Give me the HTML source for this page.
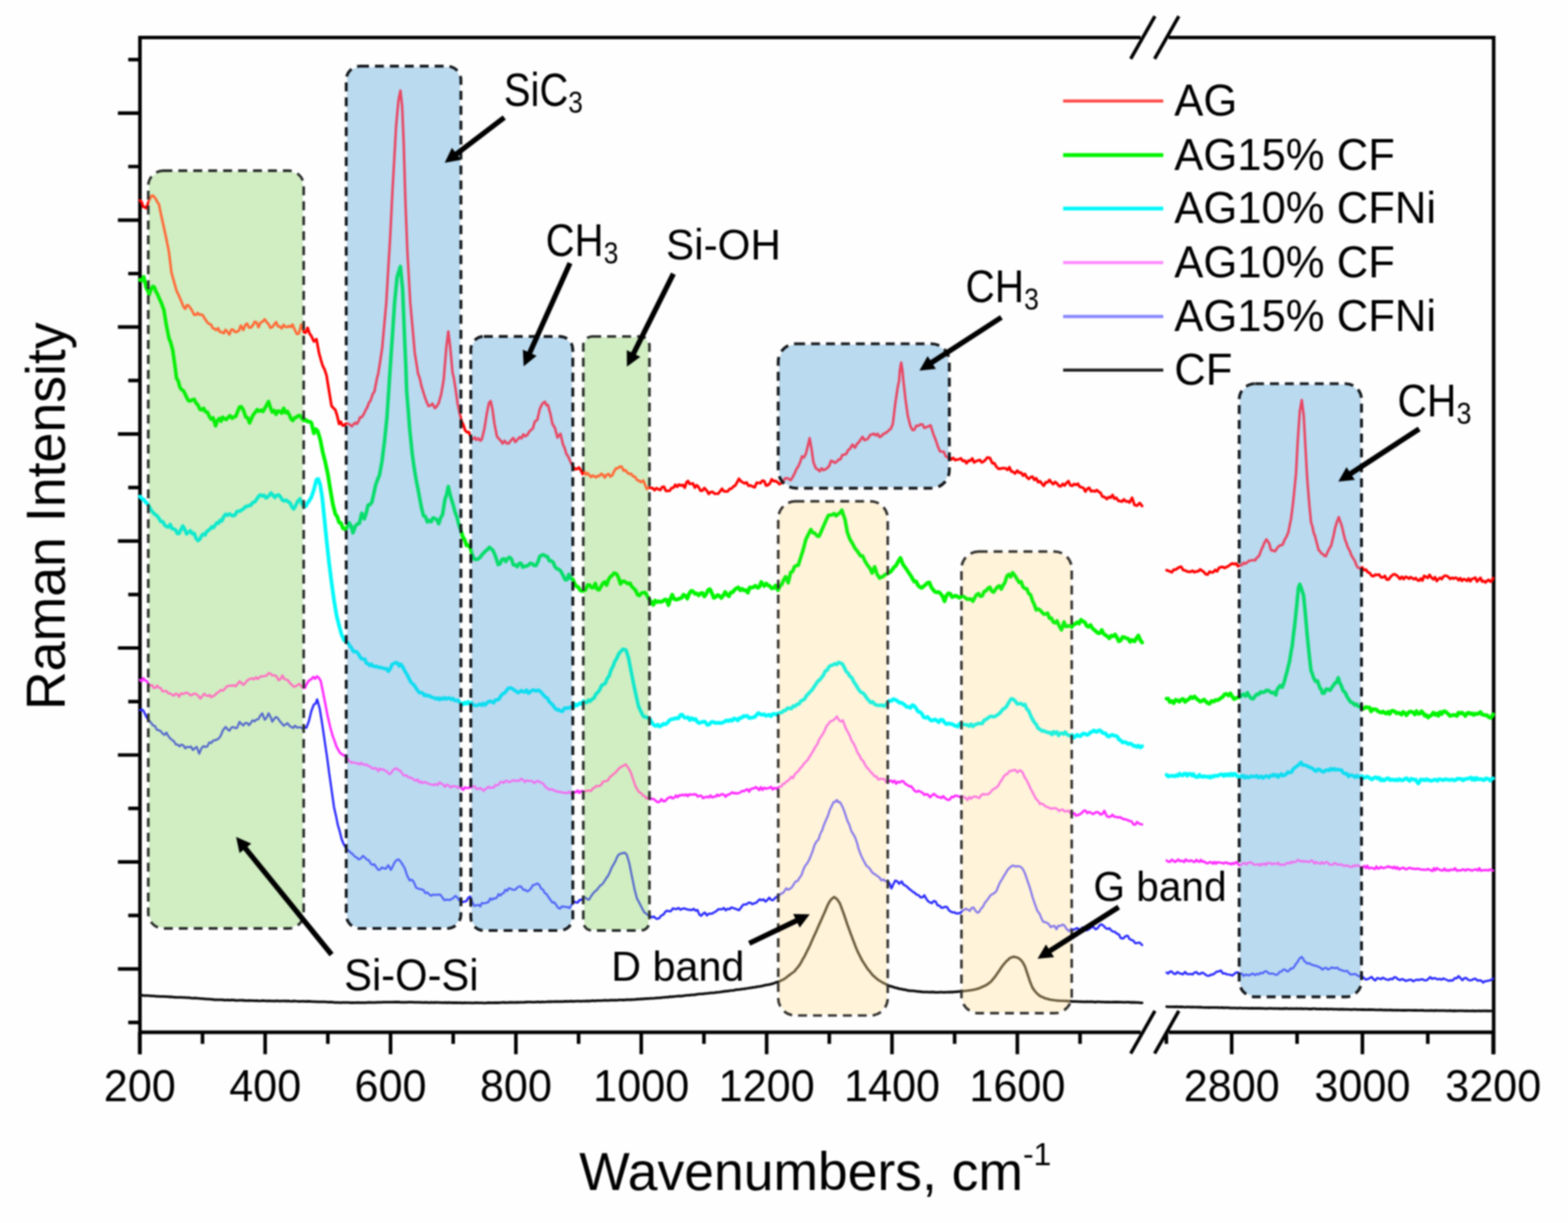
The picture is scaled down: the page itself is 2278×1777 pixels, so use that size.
<!DOCTYPE html>
<html lang="en"><head><meta charset="utf-8"><title>Raman spectra</title>
<style>html,body{margin:0;padding:0;background:#fff;overflow:hidden}svg{display:block;filter:blur(1px)}text{font-family:"Liberation Sans",sans-serif;fill:#000}</style></head><body>
<svg width="2278" height="1777" viewBox="0 0 2278 1777">
<defs>
<polyline id="c-black-l" points="203.3,1446.2 206.2,1446.2 209.1,1446.5 212,1446.6 214.9,1446.7 217.8,1446.9 220.7,1447.1 223.6,1447.2 226.5,1447.6 229.4,1447.6 232.3,1447.8 235.2,1447.8 238.1,1447.9 240.9,1448.2 243.7,1448.1 246.5,1448.5 249.4,1448.4 252.2,1448.8 255,1449 257.8,1449.1 260.6,1449.2 263.5,1449.2 266.3,1449.4 269.1,1449.4 271.9,1449.7 274.7,1449.7 277.5,1450.2 280.4,1450.3 283.2,1450.2 286,1450.4 288.8,1450.7 291.6,1450.9 294.4,1451.1 297.3,1451.3 300.1,1451.6 302.9,1451.6 305.7,1451.8 308.5,1452.1 311.4,1452.5 314.2,1452.6 317,1452.7 319.8,1452.7 322.6,1452.6 325.4,1453 328.3,1453.1 331.1,1452.8 333.9,1453.3 336.7,1452.9 339.5,1453.1 342.3,1453.5 345.2,1453.6 348,1453.4 350.8,1453.4 353.6,1453.5 356.4,1453.9 359.3,1453.9 362.1,1453.7 364.9,1453.8 367.7,1453.9 370.5,1454.1 373.3,1453.9 376.2,1454.3 379,1454.2 381.8,1454 384.6,1454.1 387.4,1454.3 390.3,1454.2 393.1,1454.4 395.9,1454.3 398.7,1454.6 401.5,1454.2 404.3,1454.3 407.2,1454.6 410,1454.4 412.8,1454.4 415.6,1454.5 418.4,1454.4 421.2,1454.7 424.1,1454.8 426.9,1454.5 429.7,1454.7 432.5,1454.8 435.3,1455.1 438.2,1454.9 441,1454.9 443.8,1455.1 446.6,1455 449.4,1455 452.2,1455.2 455.1,1455.3 457.9,1455.4 460.7,1455.6 463.5,1455.6 466.3,1455.7 469.1,1455.6 472,1455.7 474.8,1455.9 477.6,1456.1 480.4,1456 483.2,1456.2 486.1,1456.6 488.9,1456.7 491.7,1456.7 494.5,1456.8 497.3,1456.7 500.1,1456.7 503,1456.7 505.8,1456.7 508.6,1456.9 511.4,1457 514.2,1456.9 517,1456.8 519.9,1456.7 522.7,1456.9 525.5,1456.9 528.3,1456.8 531.1,1456.8 534,1456.6 536.8,1456.5 539.6,1456.7 542.4,1456.7 545.2,1456.6 548,1456.3 550.9,1456.4 553.7,1456.3 556.5,1456.1 559.3,1456.2 562.1,1456.1 564.9,1456.2 567.8,1456.1 570.6,1456.2 573.4,1455.9 576.2,1456 579,1455.9 581.9,1456.4 584.7,1456.4 587.5,1456.3 590.3,1456.3 593.1,1456.2 595.9,1456.1 598.8,1456.2 601.6,1456.3 604.4,1456.3 607.2,1456.3 610,1456.4 612.8,1456.6 615.7,1456.7 618.5,1456.4 621.3,1456.6 624.1,1456.9 626.9,1456.4 629.8,1456.8 632.6,1456.5 635.4,1456.6 638.2,1456.7 641,1456.8 643.8,1456.8 646.7,1456.7 649.5,1457 652.3,1456.6 655.1,1456.8 657.9,1457 660.7,1457 663.6,1456.9 666.4,1457.1 669.2,1456.8 672,1457.3 674.8,1457 677.7,1457.1 680.5,1457.1 683.4,1457.1 686.3,1457.4 689.2,1457.1 692,1457 694.9,1457.1 697.8,1457.1 700,1457.1 702.9,1457.3 705.9,1457.3 708.8,1456.9 711.7,1457 714.7,1457.1 717.6,1456.9 720.5,1457 723.4,1457 726.4,1456.8 729.3,1456.6 732.2,1456.5 735.2,1456.9 738.1,1456.6 741,1456.5 744,1456.5 746.9,1456.6 749.8,1456.4 752.7,1456.5 755.7,1456.3 758.6,1456.4 761.5,1456.4 764.5,1456 767.4,1455.9 770.3,1455.9 773.3,1456.1 776.2,1456.2 779.1,1455.9 782.1,1455.7 785,1456.1 787.9,1455.6 790.8,1455.8 793.8,1455.7 796.7,1455.5 799.6,1455.5 802.6,1455.4 805.5,1455.3 808.4,1455.1 811.4,1455.3 814.3,1455.2 817.2,1455.4 820.1,1455 823.1,1454.9 826,1455.1 828.9,1454.7 831.9,1455 834.8,1454.8 837.7,1454.6 840.7,1454.6 843.6,1454.9 846.5,1454.7 849.5,1454.6 852.4,1454.3 855.3,1454.5 858.2,1454.3 861.2,1453.9 864.1,1454.3 867,1453.9 870,1453.9 872.9,1453.9 875.8,1453.7 878.8,1453.4 881.7,1453.7 884.6,1453.6 887.5,1453.2 890.5,1453.4 893.4,1453.1 896.3,1453.3 899.3,1452.9 902.2,1452.8 905.1,1453 908.1,1452.9 911,1452.5 913.9,1452.6 916.8,1452.5 919.8,1452.4 922.6,1452.3 925.4,1451.7 928.2,1451.9 931.1,1451.4 933.9,1451.5 936.7,1451.1 939.5,1451 942.3,1450.9 945.1,1450.7 948,1450.6 950.8,1450.4 953.6,1450.1 956.4,1449.9 959.2,1449.8 962,1449.3 964.9,1449.2 967.7,1448.9 970.5,1448.8 973.3,1448.2 976.1,1448.4 979,1447.9 981.8,1447.7 984.6,1447.4 987.4,1447.2 990.2,1447.3 993,1446.8 995.9,1446.4 998.7,1446.2 1001.5,1446 1004.3,1445.6 1007.1,1445.5 1009.9,1445.3 1012.8,1444.7 1015.6,1444.4 1018.4,1444.1 1021.2,1444.1 1024,1443.7 1026.9,1443.4 1029.7,1443.1 1032.5,1442.7 1035.3,1442.7 1038.1,1442.4 1040.9,1441.9 1043.8,1441.7 1046.6,1441.3 1049.4,1440.8 1052.2,1440.5 1055,1440.2 1057.8,1440 1060.7,1439.3 1063.5,1439.2 1066.3,1438.8 1069.1,1438.2 1071.9,1437.8 1074.8,1437.6 1077.6,1437.2 1080.4,1436.9 1083.2,1436.5 1086,1436 1088.8,1435.5 1091.7,1435.1 1094.5,1434.6 1097.3,1434.3 1100.1,1433.7 1102.9,1433.4 1106,1432.9 1109,1432.2 1112.1,1431.4 1115.1,1430.9 1118.2,1430.3 1121.2,1429.6 1124,1428.9 1126.7,1427.6 1129.5,1426.8 1132.2,1426.1 1134.7,1424.6 1137.1,1423.6 1139.6,1422.3 1142,1420.6 1144.4,1418.7 1146.9,1416.8 1149.3,1414.9 1151.8,1413.1 1154.2,1411.4 1156.7,1408.1 1159.1,1405.4 1161.5,1402.2 1164,1398.1 1166.4,1393.5 1168.9,1389.4 1171.3,1384.5 1173.7,1379.6 1176.2,1374.7 1178.6,1369.1 1181.1,1363.6 1183.5,1358.2 1186,1352.8 1188.4,1347.3 1190.8,1341.7 1193.3,1336.2 1195.7,1330.8 1198.2,1325.3 1200.9,1318.7 1203.7,1312.5 1207.3,1307 1209.5,1305.1 1211.7,1303.3 1214.1,1305 1216.5,1306.9 1220.1,1312.4 1222.9,1319.8 1225.6,1327.1 1228.4,1335.3 1231.1,1343.6 1233.6,1350.4 1236,1356.9 1238.5,1363.7 1240.9,1369.9 1243.3,1376.1 1245.8,1382.1 1248.2,1387 1250.7,1391.9 1253.1,1396.6 1255.6,1400.3 1258,1404 1260.4,1407.7 1262.9,1410.6 1265.3,1413.7 1267.8,1416.9 1270.2,1418.9 1272.6,1421.1 1275.1,1423.2 1277.5,1424.8 1280,1426.3 1282.4,1427.7 1284.9,1429 1287.3,1430.1 1289.7,1431.6 1292.5,1432.6 1295.2,1433.4 1298,1434.2 1300.7,1435.1 1303.5,1435.6 1306.2,1436.6 1309,1436.9 1311.7,1437.7 1314.5,1438 1317.2,1438.6 1320,1439.3 1322.7,1439.5 1325.8,1439.6 1328.8,1439.9 1331.9,1440.5 1334.9,1440.7 1338,1441 1341,1441.3 1344.1,1441.4 1347.1,1441.3 1350.2,1441.7 1353.2,1441.5 1356.3,1441.5 1359.3,1441.8 1362.4,1441.8 1365.4,1441.6 1368.5,1441.6 1371.6,1441.9 1374.6,1441.7 1377.7,1441.7 1380.7,1441.5 1383.8,1441.5 1386.8,1441.2 1389.9,1441 1392.9,1440.7 1396,1440.6 1398.9,1440.3 1401.8,1439.8 1404.8,1439.5 1407.7,1439.1 1410.6,1438.8 1413.4,1438.2 1416.1,1437.7 1418.9,1436.9 1421.6,1436.2 1424.4,1435.2 1427.1,1433.8 1429.9,1432.7 1432.6,1431.5 1435,1429.8 1437.5,1428 1439.9,1426.1 1442.4,1423 1444.8,1420.1 1447.3,1416.8 1449.7,1413.3 1452.1,1409.7 1454.6,1405.9 1457,1402.7 1459.5,1399.6 1461.9,1396.8 1464.7,1394.4 1467.4,1391.9 1470.1,1390.9 1472.9,1390.1 1475.4,1390.8 1478,1391.2 1481.7,1393.5 1485.3,1397.4 1489,1404 1492.7,1415.1 1496.3,1426 1500,1435.1 1502.7,1438.9 1505.5,1442.5 1508.2,1444.8 1511,1447.3 1513.4,1448.2 1515.9,1449.3 1518.3,1450.6 1520.7,1451.1 1523.2,1451.7 1525.6,1452.5 1528.4,1452.8 1531.1,1453.2 1533.9,1453.5 1536.6,1454 1539.5,1454 1542.5,1454.2 1545.4,1454.3 1548.3,1454.4 1551.3,1454.6 1554.3,1454.6 1557.4,1455 1560.4,1455.1 1563.5,1455.1 1566.5,1455.4 1569.6,1455.3 1572.6,1455.5 1575.7,1455.6 1578.7,1455.3 1581.8,1455.6 1584.8,1455.4 1587.9,1455.6 1590.9,1456 1594,1455.7 1597,1455.7 1600.1,1455.9 1603.2,1455.8 1606.2,1456.1 1609.3,1456 1612.3,1456.1 1615.4,1456.2 1618.4,1456 1621.5,1456 1624.5,1455.9 1627.6,1456.1 1630.6,1456.2 1633.7,1456.4 1636.7,1456.2 1639.8,1456.1 1642.8,1456.5 1645.6,1456.4 1648.3,1456.5 1651.1,1456.6 1653.8,1456.7 1656.6,1457.2 1659.3,1457.1"/>
<polyline id="c-black-r" points="1694.8,1462.6 1697.3,1462.8 1699.8,1462.9 1702.3,1462.9 1704.7,1462.8 1707.2,1463 1709.7,1462.7 1712.2,1463.1 1714.6,1463 1717.1,1462.9 1719.6,1463.2 1722,1463.3 1724.5,1463.2 1727,1463.2 1729.5,1463.3 1731.9,1463.1 1734.4,1463.4 1736.9,1463.3 1739.3,1463.3 1741.7,1463.5 1744.2,1463.4 1746.6,1463.7 1749.1,1463.8 1751.5,1463.9 1753.9,1463.9 1756.4,1464 1758.8,1463.9 1761.3,1463.9 1763.7,1463.9 1766.2,1463.9 1768.6,1463.9 1771,1464.2 1773.5,1464.1 1775.9,1464 1778.4,1464.4 1780.8,1464.1 1783.3,1464.2 1785.7,1464.4 1788.1,1464.6 1790.6,1464.6 1793,1464.6 1795.5,1464.6 1797.9,1464.8 1800.3,1464.7 1802.8,1464.7 1805.2,1464.8 1807.7,1464.9 1810.1,1464.9 1812.6,1464.8 1815,1465.1 1817.4,1465 1819.9,1464.9 1822.3,1465.2 1824.8,1465 1827.2,1465.1 1829.6,1464.9 1832.1,1465.2 1834.5,1465.2 1837,1465.3 1839.4,1465.3 1841.9,1465.3 1844.3,1465.1 1846.7,1465.1 1849.2,1465.3 1851.6,1465.3 1854.1,1465.4 1856.5,1465.4 1859,1465.5 1861.4,1465.6 1863.8,1465.3 1866.3,1465.5 1868.7,1465.2 1871.2,1465.6 1873.6,1465.6 1876,1465.5 1878.5,1465.6 1880.9,1465.6 1883.4,1465.5 1885.8,1465.6 1888.3,1465.7 1890.7,1465.5 1893.1,1465.8 1895.6,1465.6 1898,1465.6 1900.5,1465.9 1902.9,1466 1905.4,1466 1907.8,1465.7 1910.2,1465.7 1912.7,1466 1915.1,1466.1 1917.6,1465.8 1920,1466.2 1922.4,1466.1 1924.9,1466.2 1927.3,1466 1929.8,1466.3 1932.2,1466.2 1934.7,1466.1 1937.1,1466.3 1939.5,1466.4 1942,1466.3 1944.4,1466.6 1946.9,1466.4 1949.3,1466.5 1951.7,1466.5 1954.2,1466.7 1956.6,1466.7 1959.1,1466.7 1961.5,1466.9 1964,1466.9 1966.4,1466.7 1968.8,1466.6 1971.3,1466.8 1973.7,1466.8 1976.2,1466.9 1978.6,1467 1981.1,1466.8 1983.5,1467 1985.9,1467.1 1988.4,1467 1990.8,1467 1993.3,1467.1 1995.7,1467 1998.1,1467.4 2000.6,1467.3 2003,1467.3 2005.5,1467.2 2007.9,1467.3 2010.4,1467.6 2012.8,1467.5 2015.2,1467.6 2017.7,1467.6 2020.1,1467.4 2022.6,1467.9 2025,1467.7 2027.5,1467.8 2029.9,1467.6 2032.3,1467.8 2034.8,1467.9 2037.2,1468 2039.7,1467.8 2042.1,1468 2044.5,1467.8 2047,1467.9 2049.4,1467.8 2051.9,1468.1 2054.3,1468 2056.8,1467.9 2059.2,1468.1 2061.6,1468.1 2064.1,1468.2 2066.5,1468 2069,1468.3 2071.4,1468.3 2073.8,1468.3 2076.3,1468.4 2078.7,1468.2 2081.2,1468.3 2083.6,1468.5 2086.1,1468.2 2088.5,1468.3 2090.9,1468.4 2093.4,1468.3 2095.8,1468.4 2098.3,1468.4 2100.7,1468.6 2103.2,1468.6 2105.6,1468.4 2108,1468.5 2110.5,1468.8 2112.9,1468.5 2115.4,1468.8 2117.8,1468.7 2120.2,1468.7 2122.7,1468.6 2125.1,1468.7 2127.6,1468.8 2130,1468.7 2132.5,1468.8 2134.9,1468.8 2137.3,1468.8 2139.8,1468.7 2142.2,1469 2144.7,1468.8 2147.1,1468.9 2149.6,1468.7 2152,1469.1 2154.5,1468.7 2157,1468.9 2159.4,1468.7 2161.9,1469 2164.3,1468.9 2166.8,1468.8 2169.2,1468.8"/>
<polyline id="c-blue-l" points="203.3,1031.7 206,1030.8 208.8,1033.3 211.5,1039.4 214.3,1044.3 217,1047.2 219.8,1050.7 222.5,1054 225.3,1055.2 228,1060.6 230.8,1060.9 233.5,1062.3 236.3,1066.1 239,1067.8 241.8,1064.4 244.5,1069.5 247.3,1072.9 250,1075.2 252.7,1076.9 255.5,1081.8 258.2,1081.8 261,1084.5 263.7,1081.9 266.5,1083.1 269.2,1087.4 272,1085.1 274.7,1085.7 277.5,1084.8 280.2,1089.8 283,1087.2 285.7,1085.1 289.4,1095.1 293,1086.7 295.8,1084.1 298.5,1085.5 301.3,1084.4 304,1078.7 306.8,1079.7 309.5,1076.3 312.3,1075.5 315,1074.8 317.8,1072.9 320.5,1069.4 324.2,1060.4 327.8,1056.2 330.6,1059.7 333.3,1061.7 336.1,1057.2 338.8,1056.3 341.6,1057.9 344.3,1057.8 348,1048.8 350.7,1052 353.5,1054.1 356.2,1050.4 359,1050.6 361.7,1053.7 364.5,1050.2 367.2,1046.5 370,1048.1 372.7,1045.3 375.5,1045.1 378.2,1039.8 381,1036.4 384.6,1045.9 387.4,1042.6 390.1,1036.3 392.9,1041.5 395.6,1048.6 398.4,1044.1 401.1,1041.7 403.8,1043.9 406.6,1048.1 409.3,1051 412.1,1054.4 414.8,1052.7 417.6,1050.8 420.3,1054.2 423.1,1056.4 425.8,1057.7 428.6,1054.3 431.3,1057.2 434.1,1056.8 436.8,1056.8 439.6,1058.8 442.3,1056.5 445.1,1057.4 448.7,1048 452.4,1032.9 456,1023.6 458.4,1022.3 460.8,1016.2 464.5,1029.6 468.1,1052.1 471.8,1077.3 475.5,1102.6 478,1121.5 481.7,1147.5 485.3,1173 488.1,1185.3 490.8,1198.7 493.6,1208 496.3,1219.2 499.1,1226.2 501.8,1230.7 504.6,1234.7 507.3,1236.6 510.1,1239.4 512.8,1241.3 515.6,1244.9 518.3,1245.9 521.1,1248.8 523.8,1247.5 527.5,1243.5 530.2,1246.1 533,1249.1 535.7,1249.8 538.5,1254.5 541.2,1256.8 544,1255.7 546.7,1260.2 549.5,1263.9 552.2,1263.6 554.9,1260.3 557.7,1261.8 560.4,1262.3 564.1,1257 567.8,1263.9 570.5,1259.1 573.3,1252.9 576,1249.9 578.8,1248.7 581.5,1251.2 584.2,1255.1 587.9,1261.2 591.6,1272.5 595.2,1279.3 598,1278.1 600.7,1280.7 604.4,1289.4 607.1,1291.1 609.9,1291.8 612.6,1292.2 615.4,1293.6 618.1,1297.8 620.9,1296.7 623.6,1299.5 626.4,1301.6 629.1,1299.6 631.9,1300.5 634.6,1299.9 637.4,1299.7 640.1,1300.3 642.9,1304.4 645.6,1308 648.4,1307.2 650.8,1307.3 653.2,1307.9 655.7,1306.4 658.4,1305.1 661.2,1301.7 663.9,1303.2 666.7,1307.9 669.4,1309.1 672.2,1310.6 674.9,1310 677.7,1309.1 680.4,1304.4 683.2,1302.7 686.8,1312.1 689.6,1316.4 692.3,1315.2 695.1,1314.7 697.8,1317.2 700,1312 702.4,1312.5 704.9,1312.2 707.3,1311.5 709.8,1310.5 712.2,1305.4 714.7,1307.5 717.1,1305.2 719.5,1305.7 722,1303.9 724.4,1299 726.9,1301.3 729.3,1298.5 731.7,1297.6 734.2,1292.7 736.6,1294.6 739.1,1290.7 741.5,1291 744,1292.4 746.4,1293.2 748.8,1292.4 751.3,1289.9 754,1287.9 756.8,1287.9 760.4,1293 763.2,1292.8 765.9,1295.1 768.7,1293.9 771.4,1290.7 774.2,1286.1 776.9,1285.5 780.6,1283.7 783.3,1285.4 786.1,1291.2 788.8,1292.5 791.6,1297.8 794.3,1299.4 797.1,1304 799.8,1307.7 802.6,1311.5 805.3,1311.1 808.1,1314.9 810.8,1319 813.6,1320.2 816.3,1317 819,1317.2 821.8,1317.9 824.5,1317.7 827.3,1319.4 830,1315.5 833.7,1309.7 836.4,1311.1 839.2,1311.5 841.9,1307.6 844.7,1307.6 847.4,1304.5 850.2,1304 852.9,1306.5 855.7,1307.3 858.4,1302.7 861.2,1298.7 863.9,1295.6 866.7,1293.5 869.4,1290.1 872.2,1286.4 874.9,1285 877.7,1281 880.4,1276.7 883.2,1272.8 885.9,1267.4 888.6,1260.8 891.4,1255.9 894.1,1251.2 896.9,1244.3 899.6,1241.2 902.4,1240.2 905.1,1239.4 907.9,1238.9 910.6,1241.9 914.3,1254.4 917.9,1272.6 921.6,1290.8 925.3,1305.3 928,1310.2 930.8,1315.7 933.5,1321.1 936.3,1325.9 939,1327.5 941.8,1330.3 944.5,1331 947.3,1332.8 950,1331.7 952.7,1334.5 955.5,1335.1 958.2,1333.5 961,1330 963.7,1329.1 966.5,1324.9 969.2,1323.2 972,1324.1 974.7,1323.9 977.5,1319.9 980.2,1320.6 983,1320.9 985.7,1319.2 988.5,1321.8 991.2,1320.5 994,1319.9 996.7,1320.7 999.5,1321.8 1002.2,1321.9 1004.9,1322.3 1007.7,1320.5 1010.4,1323.2 1013.2,1322.2 1015.9,1328.7 1018.7,1330.6 1021.4,1327.5 1024.2,1326 1026.9,1330.2 1029.7,1327.6 1032.4,1327.7 1035.2,1327.1 1037.9,1325.4 1040.7,1323.9 1043.4,1321.1 1046.2,1321.1 1048.9,1321.2 1051.6,1319.2 1054.4,1322.7 1057.1,1320.4 1059.9,1321.1 1062.6,1318.4 1065.4,1319.4 1068.1,1320.3 1070.9,1321.5 1073.6,1322.6 1076.4,1319 1079.1,1315.1 1081.9,1314.1 1084.6,1314 1087.4,1311.6 1090.1,1311.5 1092.9,1313.9 1095.6,1312.5 1098.4,1311.9 1101.1,1309.1 1103.8,1306.7 1106.6,1308.2 1109.3,1306.7 1112.1,1310 1114.8,1307.8 1117.6,1304.3 1120.3,1307.6 1123.1,1307.9 1125.8,1305.1 1128.6,1302.8 1131.3,1302.4 1134.1,1298.7 1136.8,1297.9 1139.6,1295 1142.3,1290.6 1145.1,1292.9 1147.8,1291.4 1150.5,1289.2 1153.3,1284.5 1156,1280.7 1158.8,1280.1 1161.5,1275.4 1164.3,1271.8 1167,1264 1169.8,1257.9 1172.5,1254.7 1175.3,1249.8 1178,1243.3 1180.8,1236.1 1183.5,1227.5 1186.3,1222.6 1189,1220 1191.8,1211.4 1194.5,1206.2 1197.3,1197.8 1200,1191.7 1202.7,1185.7 1205.5,1176.9 1208.2,1171.4 1211,1165.5 1213.4,1165.1 1215.8,1162.3 1217.9,1165.8 1220.1,1165.2 1222.9,1170 1225.6,1176.1 1228.4,1184.2 1231.1,1192.5 1233.9,1198.4 1236.6,1206.9 1239.4,1211.7 1242.1,1216.3 1244.9,1224.1 1247.6,1234.1 1250.4,1241.6 1253.1,1247.5 1255.9,1252.7 1258.6,1257.8 1261.4,1259.9 1264.1,1262.7 1266.8,1267.3 1269.6,1269.5 1272.3,1271.1 1275.1,1273.1 1277.8,1275.2 1280.6,1279.3 1283.3,1277.7 1286.1,1280.3 1288.8,1280.4 1291.6,1282.4 1295.2,1290.9 1298,1284.3 1300.7,1279.5 1303.5,1280.4 1306.2,1284.1 1309.9,1280.6 1312.6,1285.4 1315.4,1286.8 1318.1,1288.7 1320.9,1291.6 1323.6,1293.5 1326.4,1295.9 1329.1,1297.5 1331.9,1300 1334.6,1300.8 1337.4,1303.9 1340.1,1303.8 1342.9,1300.8 1345.6,1305.8 1348.4,1309.6 1351.1,1311.1 1353.8,1312.3 1356.6,1309 1359.3,1310 1362.1,1315.5 1364.8,1315.8 1367.6,1318.8 1370.3,1318.8 1373.1,1317.5 1375.8,1317.9 1378.6,1322.6 1381.3,1324.5 1384.1,1325.7 1386.8,1325.6 1389.6,1327.5 1392.3,1326.8 1395.1,1326.8 1397.8,1323.8 1400.5,1322.3 1403.3,1320.2 1406,1321.8 1408.8,1323.6 1411.5,1319.4 1414.3,1318.5 1417,1323.1 1419.8,1326.1 1422.5,1325 1425.3,1320.3 1428,1317.4 1430.8,1311.8 1433.5,1308.6 1436.3,1304.8 1439,1300.8 1441.8,1299.2 1444.5,1297.6 1447.3,1295.2 1450,1288.6 1452.7,1282.4 1455.5,1278 1458.2,1273.1 1461,1268.8 1463.7,1264 1466.5,1261.1 1469.2,1258.6 1472,1257.5 1474.7,1258.9 1478,1258.6 1481.7,1258.9 1485.3,1261.6 1489,1268.8 1492.7,1279.8 1496.3,1290.1 1500,1303.1 1503.6,1314 1507.3,1323.9 1510.1,1327.2 1512.8,1333.8 1515.5,1339.3 1518.3,1339.8 1521,1340.8 1523.8,1342.9 1526.5,1347.1 1529.3,1345.8 1532,1345.2 1534.8,1350.2 1537.5,1345 1540.3,1345.5 1543.9,1343.4 1546.7,1345.1 1549.4,1349.7 1553.1,1353.2 1555.8,1349.6 1558.6,1351.1 1561.3,1350.3 1564.1,1348.5 1566.8,1349.6 1569.6,1351.3 1572.3,1347.7 1575.1,1347.7 1577.8,1351.9 1580.6,1350.9 1583.3,1349.3 1586.1,1347 1588.8,1347.2 1591.6,1350.2 1594.3,1349.1 1597,1345.1 1599.8,1343 1602.5,1344.4 1606.2,1348.3 1609,1349.9 1611.7,1348.6 1614.4,1352 1617.2,1353.7 1619.9,1354 1622.7,1356.7 1625.4,1357.6 1628.2,1363.1 1631.8,1363.7 1635.5,1360 1638.3,1359.5 1641,1364.4 1643.8,1365.7 1646.5,1366.8 1649.2,1370.4 1652,1370.1 1655.7,1369.5 1659.3,1373.2"/>
<polyline id="c-blue-r" points="1694.8,1413.2 1697.2,1414.5 1699.6,1411.7 1702.4,1411.7 1705.1,1414.7 1707.9,1415.2 1710.6,1412.3 1713.3,1413.9 1716.1,1414.9 1718.8,1415.6 1721.6,1412.2 1724.3,1415.1 1727.1,1415.5 1729.8,1415 1732.6,1415.9 1735.3,1413.2 1738.1,1412.4 1740.8,1415.2 1743.6,1415.1 1746.3,1413.2 1749.1,1414.2 1751.8,1416.6 1754.6,1417.9 1757.3,1417.5 1760.1,1415.9 1762.8,1415.8 1765.5,1413.3 1768.3,1411.6 1771,1411.3 1773.8,1410.1 1776.5,1414.3 1779.3,1414.3 1782,1415.5 1784.8,1416 1787.5,1416.3 1790.3,1417.4 1793,1415.2 1795.8,1413.1 1798.5,1412.8 1801.3,1414.9 1804,1414.4 1806.8,1418 1809.5,1416 1812.2,1416.5 1815,1417.2 1817.7,1415.5 1820.5,1414.5 1823.2,1417 1826,1415 1828.7,1415.9 1831.5,1413.5 1834.2,1414.4 1837,1411.8 1839.7,1411.1 1842.5,1413.6 1845.2,1415 1848,1414.4 1850.7,1415.1 1853.5,1416.5 1856.2,1415.9 1859,1412 1861.7,1411.7 1864.4,1408.7 1867.2,1409 1869.9,1411.5 1872.7,1410.5 1875.4,1406.9 1878.2,1407.2 1880.9,1403.7 1882.8,1400.2 1884.6,1398.6 1886.4,1395.2 1888.3,1392.5 1891.2,1390.3 1893,1392.6 1894.8,1396.4 1897,1398.1 1899.2,1400.1 1902,1399.5 1904.7,1401.3 1907.5,1402.3 1910.2,1403 1913,1403.6 1915.7,1404.9 1918.5,1406.2 1921.2,1408.8 1924,1406.7 1926.7,1406.1 1929.5,1408.8 1932.2,1407.3 1935,1405.6 1937.7,1406.6 1940.5,1406.7 1943.2,1405.9 1945.9,1409.1 1948.7,1409.3 1951.4,1410.8 1954.2,1411.1 1956.9,1410.6 1959.7,1413.7 1962.4,1416.1 1965.2,1415.5 1967.9,1415.2 1970.7,1416.1 1973.4,1418.5 1976.2,1418.1 1978.9,1418.7 1981.7,1421.4 1984.4,1423.3 1987.2,1422.6 1989.9,1421.2 1992.7,1419.4 1995.4,1422.8 1998.1,1424.6 2000.9,1421.1 2003.6,1421.8 2006.4,1422.8 2009.1,1420.5 2011.9,1422.2 2014.6,1423.2 2017.4,1423.9 2020.1,1422 2022.9,1423 2025.6,1419.9 2028.4,1420.4 2031.1,1423 2033.9,1424.1 2036.6,1422.6 2039.4,1423.4 2042.1,1425.3 2044.8,1424.4 2047.6,1423.7 2050.3,1423.6 2053.1,1425.8 2055.8,1424.3 2058.6,1423.4 2061.3,1424.1 2064.1,1423.1 2066.8,1422.9 2069.6,1424.4 2072.3,1424.5 2075.1,1422.4 2077.8,1419.6 2080.6,1422.4 2083.3,1421.1 2086.1,1421.9 2088.8,1423.1 2091.6,1422.3 2094.3,1423.5 2097,1421.7 2099.8,1422.9 2102.5,1424.1 2105.3,1425.3 2108,1424.3 2110.8,1424.6 2113.5,1421.2 2116.3,1421.5 2119,1418.3 2121.8,1421.2 2124.5,1424.3 2127.3,1421.3 2130,1420.9 2132.8,1423.6 2135.5,1424.5 2138.3,1424 2141,1422.4 2143.8,1422.1 2146.5,1424.9 2149.2,1424.4 2152,1424.9 2154.7,1427.7 2157.5,1425.6 2160.2,1425.4 2163,1424.7 2165.1,1424.5 2167.1,1423 2169.2,1421.9"/>
<polyline id="c-mag-l" points="203.3,987.7 205.7,989.9 208.2,985.2 210.6,988.6 213.4,989.6 216.1,994.4 218.6,996.3 221,995.3 223.4,999.8 225.9,999.3 228.3,996.1 230.8,999.2 233.5,999.9 236.3,1004.7 239,1004.2 241.8,1004.2 244.5,1007.4 247.3,1007.7 250,1009.5 252.7,1010.8 255.2,1007.9 257.6,1008.5 260.1,1012.4 262.8,1007.6 265.6,1008.5 268.3,1007.2 271.1,1006.2 273.8,1007.8 276.6,1010.3 279.3,1009.6 282.1,1007.7 284.8,1008.3 287.5,1010.6 291.2,1015.1 294,1011.4 296.7,1007.9 299.5,1010.6 302.2,1011.5 304.6,1009.7 307.1,1013.2 309.5,1011.3 312.3,1010.1 315,1006.9 317.8,1005.4 320.5,1002.6 323.3,1003.6 326,1001.7 328.8,997.9 331.5,996.6 334.2,996.4 337,996.5 339.4,995.4 341.9,997.3 344.3,995 348,989.9 350.7,992.5 353.5,995.2 356.2,992.7 359,988.9 361.4,987.3 363.9,986.2 366.3,985.6 369,987.2 371.8,984 374.5,986.7 377.3,983.8 380,982.6 382.8,982.7 385.2,981.9 387.7,981.5 390.1,978.1 392.9,978.5 395.6,981.5 398.4,981.3 401.1,982 404.8,988.4 407.5,986.7 410.3,981.4 413,986.6 415.8,987.5 418.5,988.5 421.2,992.5 424,995 426.7,997.9 429.5,997.3 432.2,995.3 435,993.5 437.7,997.1 440.5,999.5 443.2,999.2 446,993 448.7,989 452.4,986.7 455.1,983.6 457.9,986.3 460.1,982.8 462.3,983.8 465.9,989.2 468.9,1003.8 472.5,1022.1 476.2,1041.2 479.9,1057.1 483.5,1069.9 486.3,1077.2 489,1085.2 491.8,1090.2 494.5,1094.7 496.9,1095.6 499.4,1097.9 501.8,1097.3 504.6,1101.7 507.3,1105.6 510.1,1108.1 512.8,1107.7 515.3,1108.3 517.7,1109.2 520.1,1109.2 522.6,1110.8 525,1108.3 527.5,1110.7 529.9,1111.4 532.4,1110.5 534.8,1113.1 537.2,1113.4 539.7,1115.5 542.1,1117.1 544.6,1115.8 547,1116.8 549.5,1120.4 551.9,1116.8 554.3,1118.5 556.8,1117.6 559.5,1119.9 562.3,1121 565,1124.6 567.8,1124 570.5,1119.5 573.3,1117.1 576,1116.2 578.8,1119.1 581.5,1119.7 584.2,1123.8 587,1127 589.7,1126.3 592.2,1128.4 594.6,1129.8 597.1,1129.8 599.5,1131.7 602,1133.3 604.4,1134.5 606.8,1132.4 609.3,1137.1 611.7,1135.4 614.2,1138 616.6,1136.2 619,1136.8 621.5,1138.4 623.9,1139.3 626.4,1139.8 628.8,1140.1 631.3,1140.6 633.7,1139.1 636.1,1140.7 638.6,1136.8 641,1138.5 643.8,1140.2 646.5,1143.1 649.3,1139.8 652,1141.5 654.8,1144.4 657.5,1142 660.3,1142.6 663,1142.7 665.4,1145 667.9,1143.2 670.3,1145.3 672.8,1147.7 675.2,1144 677.7,1144.9 680.1,1145.1 682.5,1143.7 685,1144.5 687.4,1142.6 689.9,1142.5 692.3,1146.3 695.1,1146.4 697.8,1144.8 700,1146.8 702.4,1149 704.9,1146.9 707.3,1145.1 709.8,1143 712.2,1145.1 714.7,1144.2 717.1,1144.7 719.5,1140.7 722,1141.1 724.4,1139.9 726.9,1136.3 729.3,1136.1 731.7,1137.8 734.2,1134.5 736.6,1134.5 739.1,1136.6 741.5,1135.8 744,1134.4 746.4,1133.6 748.8,1134.8 751.3,1134.1 754,1134.8 756.8,1131.6 759.5,1132.8 762.3,1136.2 765,1133.9 767.8,1134.8 770.5,1134.5 773.3,1135 776,1137.9 778.8,1135.8 781.5,1134.3 784.2,1136.6 787,1137.3 789.7,1139.3 792.5,1143.3 795.2,1145.4 797.7,1147.3 800.1,1146.9 802.6,1146.8 805,1148.9 807.4,1149.1 809.9,1150.5 812.3,1150.4 814.8,1151.1 817.2,1151.1 819.7,1152.4 822.1,1151.9 824.5,1152.4 827,1150.1 829.4,1153.3 831.9,1151.7 834.3,1150.7 836.8,1151.1 839.2,1148.5 841.6,1152 844.1,1149.5 846.5,1149.5 849,1149.8 851.4,1149.6 853.8,1148.7 856.3,1148.8 858.7,1149.3 861.2,1145.6 863.6,1144.6 866.1,1142.1 868.5,1142.2 870.9,1142 873.4,1140.4 875.8,1136.1 878.3,1135.3 880.7,1134.7 883.2,1133.9 885.9,1129.3 888.6,1127.4 891.4,1124.5 894.1,1122.8 896.9,1119.2 899.6,1116.3 902.4,1114.2 905.1,1113 908.8,1110.5 912.5,1115.2 916.1,1121.6 919.8,1132.4 923.4,1142.7 926.2,1147.8 928.9,1151.2 931.7,1152.7 934.4,1156 936.9,1156.9 939.3,1160.4 941.8,1158.4 944.5,1161.3 947.3,1160.4 950,1161.1 952.7,1163.7 955.5,1165.6 958.2,1164.9 961,1161.1 963.7,1164.2 966.5,1163.8 969.2,1160.6 972,1158.8 974.7,1157.9 977.2,1160.1 979.6,1158.9 982.1,1155.9 984.5,1158.2 986.9,1155.3 989.4,1155.8 991.8,1154.6 994.3,1155.8 996.7,1154.2 999.1,1156.8 1001.6,1154.3 1004,1154.5 1006.5,1154.6 1008.9,1154 1011.4,1154.6 1013.8,1157.5 1016.2,1156.1 1018.7,1156.1 1021.4,1159.8 1024.2,1158.4 1026.9,1157.6 1029.7,1158.7 1032.1,1155.7 1034.6,1158.8 1037,1157.6 1039.4,1157.6 1041.9,1154.6 1044.3,1156.6 1046.8,1154.8 1049.2,1153.8 1051.6,1154.7 1054.1,1157.8 1056.5,1154.9 1059,1154.5 1061.4,1152.9 1063.9,1151.3 1066.3,1152.7 1068.7,1152.3 1071.2,1153 1073.6,1152.1 1076.1,1151 1078.5,1149.1 1081,1149.6 1083.4,1147.8 1085.8,1146.8 1088.3,1150.4 1090.7,1146.5 1093.2,1145.7 1095.6,1145.3 1098,1143.6 1100.5,1145.6 1102.9,1147.9 1105.4,1143.7 1107.8,1147.8 1110.3,1144.5 1112.7,1146.1 1115.1,1145.4 1117.6,1144.9 1120,1143.2 1122.5,1147.2 1124.9,1144.8 1127.7,1146 1130.4,1144.4 1132.2,1143.3 1134.7,1143.4 1137.1,1139.2 1139.6,1138.9 1142,1135.7 1144.4,1134.8 1146.9,1132.4 1149.3,1128.8 1151.8,1130.8 1154.2,1126.1 1157,1122.6 1159.7,1120.7 1162.5,1116.3 1165.2,1113.9 1167.9,1109.6 1170.7,1106.8 1173.4,1104.2 1176.2,1099.4 1178.9,1095.1 1181.7,1090.7 1184.4,1085.2 1187.2,1081.8 1189.9,1074.8 1192.7,1070.5 1195.4,1066.6 1198.2,1061.3 1200.9,1054.7 1203.7,1051.6 1206.4,1048.1 1209.2,1047.3 1212.5,1045 1215.8,1041 1217.9,1044.7 1220.1,1047.6 1222.3,1048.2 1224.5,1046.4 1226.9,1053.4 1229.3,1059.4 1232.1,1064.2 1234.8,1069.6 1237.5,1076.7 1240.3,1080.5 1243,1086.3 1245.8,1093.5 1248.5,1097.5 1251.3,1103.5 1254,1105.4 1256.8,1111.3 1259.5,1115.3 1262.3,1118.1 1265,1121.9 1267.8,1124.2 1270.5,1127.9 1273.3,1128.1 1276,1132.8 1278.8,1131.5 1282.4,1131.9 1284.9,1131.8 1287.3,1136.4 1289.7,1135.4 1292.2,1134.8 1294.6,1134.1 1297.1,1136.8 1299.5,1134.3 1302,1138.7 1304.4,1135.9 1307.1,1137 1309.9,1134.8 1312.6,1135.4 1315.4,1139.3 1318.1,1140.4 1320.9,1142.5 1323.6,1142.4 1326.4,1145.8 1329.1,1149.5 1331.9,1150.5 1334.6,1149 1337.4,1150.5 1340.1,1151.7 1342.9,1155 1345.6,1153.9 1348.4,1154.8 1351.1,1158.5 1353.8,1156 1356.6,1153.4 1359.3,1155.5 1362.1,1158.1 1364.8,1158.1 1367.6,1159.5 1370.3,1156.8 1372.8,1159.5 1375.2,1161.2 1377.7,1162.5 1380.1,1161.4 1382.5,1157.7 1385,1158.4 1387.7,1155.9 1390.5,1156.4 1393.2,1157.3 1396,1158.9 1398.4,1157 1400.9,1158.3 1403.3,1159.9 1405.7,1162.6 1408.2,1158 1410.6,1160.5 1413.1,1158.3 1415.5,1157.3 1417.9,1157.5 1420.4,1158.6 1422.8,1159.7 1425.3,1155.7 1427.7,1153.9 1430.2,1154.4 1432.6,1154 1435,1154.1 1437.5,1152.6 1439.9,1150 1442.4,1147.1 1444.8,1145.8 1447.3,1144.4 1450,1142 1452.7,1136.9 1455.5,1133 1458.2,1128.4 1461,1125.2 1463.7,1124.4 1466.5,1120.4 1469.2,1120.2 1472.9,1118.6 1475.4,1118.9 1478,1122.4 1481.7,1119.1 1485.3,1121.6 1489,1130 1491.7,1133.9 1494.5,1139.7 1497.2,1146 1500,1150.8 1502.7,1156.4 1505.5,1161.2 1508.2,1163.7 1511,1168.3 1513.7,1167.5 1516.5,1169.3 1519.2,1171.8 1522,1172.8 1524.7,1173.9 1527.5,1175.2 1530.2,1174.3 1532.9,1174.2 1535.7,1175.3 1538.4,1178.4 1541.2,1177 1543.9,1176 1546.7,1179.1 1549.4,1178.6 1552.2,1177.9 1554.9,1181.1 1557.7,1182.9 1560.4,1181.4 1563.2,1185.1 1565.9,1184.4 1568.7,1183.1 1571.4,1181.6 1574.2,1178.2 1576.9,1177.7 1579.6,1181.4 1582.4,1179.7 1585.1,1181.1 1587.9,1182.9 1590.6,1181.1 1593.4,1179.9 1596.1,1180.7 1598.9,1183.5 1601.6,1182.7 1604.4,1178 1608,1186 1610.8,1187.1 1613.5,1186.4 1616.3,1183.8 1619,1186.9 1621.8,1186.9 1624.5,1188 1627.3,1187.1 1630,1189.1 1632.8,1190.4 1635.5,1190.5 1638.3,1191.6 1641,1192.9 1643.8,1193.3 1646.5,1197.7 1649.2,1198.4 1652,1194.2 1655.7,1197.2 1659.3,1197.9"/>
<polyline id="c-mag-r" points="1694.8,1250.2 1697.4,1252.1 1700,1252.1 1702.5,1249.1 1705.1,1251 1707.3,1252.5 1709.5,1250.6 1711.7,1248.7 1713.9,1251 1716.1,1250.8 1718.3,1251 1720.5,1252.6 1722.7,1248.7 1724.9,1250.5 1727.1,1251.6 1729.3,1250.2 1731.5,1250.5 1733.7,1252.3 1735.9,1252.3 1738.1,1249.2 1740.3,1251.5 1742.5,1252.3 1744.7,1249.4 1746.9,1252.1 1749.1,1251.5 1751.3,1253.4 1753.5,1254.4 1755.7,1253.8 1757.9,1252.6 1760.1,1253 1762.2,1255 1764.4,1252.4 1766.6,1254.9 1768.8,1252.8 1771,1253.1 1773.2,1253.5 1775.4,1253.6 1777.6,1254.9 1779.8,1253.4 1782,1253.2 1784.2,1254.8 1786.4,1254.3 1788.6,1256 1790.8,1253.9 1793,1255.3 1795.2,1252.8 1797.4,1253.1 1799.6,1256.8 1801.8,1257.5 1804,1255.8 1806.2,1254.1 1808.4,1254.1 1810.6,1256.1 1812.8,1253.6 1815,1253.6 1817.2,1252.8 1819.4,1254.4 1821.6,1256.2 1823.8,1256.3 1826,1256 1828.2,1255.5 1830.4,1257.9 1832.6,1255 1834.8,1256.2 1837,1254.7 1839.2,1256.9 1841.4,1253.7 1843.6,1254.1 1845.8,1254 1848,1256 1850.2,1254.6 1852.4,1255.2 1854.6,1255.2 1856.8,1253.5 1859,1256.7 1861.2,1256 1863.3,1256.6 1865.5,1256.6 1867.7,1255.5 1869.9,1253.8 1872.1,1253.8 1874.3,1254.6 1876.5,1252.1 1878.7,1252.9 1880.9,1252.5 1883.1,1252 1885.3,1249.5 1887.5,1250.3 1889.7,1251.8 1891.9,1251 1894.1,1252.2 1896.3,1251.2 1898.5,1251.7 1900.7,1252.7 1902.9,1251.6 1905.1,1250.3 1907.3,1251.3 1909.5,1254.6 1911.7,1252.2 1913.9,1254 1916.1,1254.2 1918.3,1255.1 1920.5,1252.4 1922.7,1255.1 1924.9,1253.9 1927.1,1252.3 1929.3,1253.8 1931.5,1256.2 1933.7,1256.4 1935.9,1256.5 1938.1,1254.5 1940.3,1254.1 1942.5,1256 1944.7,1256.5 1946.9,1255.8 1949.1,1256.3 1951.3,1257.8 1953.5,1257.9 1955.7,1257.6 1957.9,1257.5 1960.1,1258.9 1962.2,1259.9 1964.4,1259.6 1966.6,1257.2 1968.8,1258.7 1971,1257.4 1973.2,1257.1 1975.4,1259.1 1977.6,1260.6 1979.8,1259.8 1982,1258.3 1984.2,1261.3 1986.4,1257.9 1988.6,1261.9 1990.8,1261.1 1993,1260.7 1995.2,1262 1997.4,1262.7 1999.6,1259 2001.8,1262.1 2004,1261.8 2006.2,1259.4 2008.4,1261 2010.6,1261.2 2012.8,1260.3 2015,1259.8 2017.2,1258.8 2019.4,1260.4 2021.6,1259.9 2023.8,1261.6 2026,1259.2 2028.2,1262.2 2030.4,1260.1 2032.6,1263.3 2034.8,1262.1 2037,1261.1 2039.2,1260.8 2041.4,1262.8 2043.6,1263 2045.8,1261.6 2048,1260.9 2050.2,1261.6 2052.4,1262.4 2054.6,1262.3 2056.8,1262.8 2059,1262.1 2061.2,1262.2 2063.3,1263.1 2065.5,1263.6 2067.7,1263.4 2069.9,1263.9 2072.1,1263.7 2074.3,1262.6 2076.5,1263.6 2078.7,1264.4 2080.9,1265.6 2083.1,1261.6 2085.3,1264.7 2087.5,1261.2 2089.7,1263 2091.9,1263.8 2094.1,1264.6 2096.3,1264.7 2098.5,1262.1 2100.7,1265.1 2102.9,1264.1 2105.1,1265.2 2107.3,1263.5 2109.5,1263.8 2111.7,1263.9 2113.9,1261.5 2116.1,1265.1 2118.3,1264.5 2120.5,1264.8 2122.7,1264.6 2124.9,1263.2 2127.1,1263.8 2129.3,1264.9 2131.5,1263 2133.7,1263.7 2135.9,1263.8 2138.1,1265 2140.3,1264.3 2142.5,1263.4 2144.7,1263.3 2146.9,1264.9 2149.1,1261.5 2151.3,1265.1 2153.5,1264.6 2155.7,1264.3 2157.9,1264.2 2160.2,1264.2 2162.4,1264.9 2164.7,1263.2 2166.9,1264.3 2169.2,1264.8"/>
<polyline id="c-cyan-l" points="203.3,721.4 206,724.6 208.8,725.7 211.5,729.7 214.3,731.6 217,736.5 219.8,741.5 222.5,745 225.3,747.5 228,749.3 230.8,753 233.5,757.6 236.3,757.8 239,762.6 241.8,765.1 244.5,765.9 247.3,762 250,768.1 252.7,768.8 255.2,770.1 257.6,775.2 260.1,775.1 262.8,769.7 265.6,764.2 268.3,768.7 271.1,775.8 273.8,773.4 276.6,771.1 279.3,775.4 282.1,774.9 284.8,782.2 287.5,785.5 290.3,783.4 293,778.1 295.5,775.8 297.9,777.3 300.4,772.2 302.8,770.6 305.3,768.7 307.7,765.4 310.1,766.6 312.6,763.1 315,759.6 317.5,760.2 319.9,755.8 322.3,756.9 325.1,750.5 327.8,747.1 330.6,748.7 333.3,746.6 336.1,748.5 338.8,749.5 341.6,748.1 344.3,743.3 346.8,742.6 349.2,742.5 351.6,740.6 354.4,738.8 357.1,735.8 359.6,735.7 362,734.3 364.5,734.2 367.2,730.1 370,729.3 372.7,725.9 375.5,721.4 378.2,719 381,720.7 383.7,719.7 386.4,723.5 388.9,722 391.3,719.6 393.8,716.3 396.5,719.4 399.3,722.8 402,719.7 404.8,719 407.5,722 410.3,726.6 413,727.8 415.8,726.6 418.5,728.9 421.2,730.4 424,736.4 426.7,739.5 429.5,734.8 432.2,728.8 435.9,724.8 438.6,732 441.4,736.5 444.1,735.6 446.9,730.5 449.6,727.1 452.4,722.4 456,711.6 459.7,697.2 462.3,695.8 465.2,704.4 468.1,722.4 470.7,747.6 474.4,784.6 478,817 481.7,846.7 485.3,872.2 489,894.6 492.7,909.1 496.3,922.2 500,930.3 502.7,932.2 505.5,933.8 508.2,938.4 511,942.1 513.7,946.9 516.5,946.5 519.2,948 522,952.6 524.7,957 527.5,957.5 529.9,957.8 532.4,963.8 534.8,964.3 537.2,967.1 539.7,965 542.1,968 544.6,968.6 547,968 549.5,969.8 551.9,969.6 554.3,970.3 556.8,970.9 559.2,971.7 561.7,971.6 564.1,975.3 566.8,972.2 569.6,965.4 572.3,963.9 575.1,962.9 577.5,963.2 580,967.9 582.4,965.2 585.2,969.1 587.9,974.6 590.7,979 593.4,984.2 596.2,989.9 598.9,993.2 601.6,995.3 604.4,999.9 606.8,1003.3 609.3,1006.5 611.7,1006.5 614.2,1007.1 616.6,1010.6 619,1009.6 621.5,1011.3 623.9,1010.8 626.4,1012.9 628.8,1013.6 631.3,1014.1 633.7,1015.7 636.1,1014.1 638.6,1016.7 641,1014.5 643.5,1015.8 645.9,1013.6 648.4,1015.7 650.8,1014.4 653.2,1014.3 655.7,1016.4 658.1,1014.9 660.6,1017.8 663,1018 665.4,1017.5 667.9,1020.8 670.3,1021.9 672.8,1023.5 675.2,1020.7 677.7,1022.4 680.1,1019.8 682.5,1022.4 685,1021 687.4,1023.9 689.9,1025 692.3,1025.3 695.1,1024 697.8,1023 700,1024.8 702.4,1021.9 704.9,1024.3 707.3,1021.7 709.8,1019.2 712.2,1018.9 714.7,1020 717.1,1021.3 719.5,1017.2 722,1017 724.7,1016.1 727.5,1011.3 730.2,1008.3 733,1006.9 735.7,1003.7 738.5,1000 742.1,999.5 744.9,1001.1 747.6,1003 750.1,1004.6 752.5,1006.4 754.9,1005.3 757.4,1003.3 759.8,1005 762.3,1005.4 765,1002.6 767.8,1007.1 770.5,1005.1 773.3,1002.9 776,1002.8 778.8,1004.2 781.5,1002.7 784.2,1003.9 787,1006.8 789.7,1010 792.5,1012.9 795.2,1014.5 798,1019.7 800.7,1022 803.5,1025 806.2,1028.9 809,1031.4 811.7,1031.1 814.5,1033.2 817.2,1033.6 820,1029 822.7,1028.9 825.5,1028.9 828.2,1028.1 830.6,1026.1 833.1,1027.6 835.5,1023.3 838,1025.2 840.4,1023.3 842.9,1021.6 845.3,1022.7 847.7,1018.7 850.2,1020.8 852.6,1020.8 855.1,1017.3 857.5,1018.9 860.3,1015.8 863,1014.3 865.8,1008.3 868.5,1006.1 871.2,1002.2 874,996.1 876.7,994.6 879.5,992.6 882.2,985.9 885,982.3 887.7,973.6 890.5,968.3 893.2,961.1 896,956.6 898.4,951.2 900.7,947.6 902.9,945.6 905.1,943.3 907.3,943.7 909.5,944.8 913.2,956.2 916.8,975 920.5,993.8 924.2,1011.3 927.8,1026.7 931.5,1034.6 933.9,1039.7 936.3,1041.9 939,1041.7 941.8,1043.5 944.5,1045.1 947.3,1050.3 950,1053.6 952.7,1054.9 955.5,1052.8 958.2,1055.7 961,1054.2 963.7,1051.7 966.5,1052.5 969.2,1050.8 972,1047.2 974.7,1045.1 977.5,1044.9 980.2,1043.9 983,1043.5 985.7,1043.7 988.5,1038.7 991.2,1038.5 994,1042.6 996.7,1042.9 999.5,1042.2 1002.2,1046.3 1004.9,1043.3 1007.7,1045.8 1010.4,1044.6 1013.2,1049 1015.9,1050.6 1018.7,1049.5 1021.4,1048.6 1024.2,1048.7 1027.8,1053.3 1030.6,1052.5 1033.3,1049.1 1036.1,1048.9 1038.8,1050.5 1041.6,1050.3 1044.3,1050 1047.1,1050.7 1049.8,1050 1052.6,1048.6 1055.3,1046.6 1058.1,1047.9 1060.8,1046 1063.6,1047.4 1066.3,1044 1069,1044.6 1071.8,1046.8 1074.5,1043.1 1077.3,1043.2 1080,1040.5 1082.8,1040.7 1085.5,1040 1088.3,1043.2 1091,1043 1093.8,1042.3 1096.5,1041.9 1099.3,1038.5 1102,1036.1 1104.8,1038 1107.5,1038.5 1110.3,1037.8 1112.7,1040.1 1115.1,1039.3 1117.6,1038.5 1120,1040.7 1122.5,1037.7 1124.9,1037.1 1127.7,1038.3 1130.4,1036.8 1133.2,1035.5 1135.9,1035.2 1138.6,1032.6 1141.4,1032.2 1144.1,1028.9 1146.9,1029.1 1149.6,1029.8 1152.4,1025.7 1155.1,1026.3 1157.9,1023.3 1160.6,1023.2 1163.4,1018.8 1166.1,1017.3 1168.9,1015.7 1171.6,1010.8 1174.4,1008.2 1177.1,1005 1179.9,1002.4 1182.6,998.2 1185.3,994 1188.1,989.9 1190.8,987.9 1193.6,984.5 1196.3,980.8 1199.1,974.9 1201.8,973.6 1204.6,968.4 1207.3,966.9 1210.1,966.1 1212.8,964.3 1215.6,965.7 1218.3,962.4 1221.1,963.6 1223.8,964.7 1226.6,969.8 1229.3,975.5 1232.1,978.2 1234.8,982.6 1237.5,984.5 1240.3,990.6 1243,994.4 1245.8,999.1 1248.5,1003.5 1251.3,1006.2 1254,1007.2 1256.8,1010.5 1259.5,1014.7 1262.3,1017.9 1265,1020.9 1267.8,1019.7 1270.5,1023.1 1273.3,1024.6 1276,1024.8 1278.8,1025 1281.5,1024.5 1284.2,1026.1 1287,1024.2 1289.7,1020.3 1292.5,1017.9 1295.2,1018.4 1298,1015.7 1300.7,1016.9 1303.5,1018.2 1306.2,1020.7 1309,1021 1311.7,1022.3 1314.5,1024.4 1317.2,1027.1 1320,1027.1 1322.7,1028.5 1325.5,1024.6 1328.2,1025.7 1331,1029.4 1333.7,1033.9 1336.4,1034.5 1339.2,1036.9 1341.9,1042.1 1344.7,1042.9 1347.4,1041.6 1350.2,1044.7 1352.9,1047.1 1355.7,1046.4 1358.4,1045.3 1361.2,1047.3 1363.9,1049.3 1366.7,1045.8 1369.4,1046 1372.2,1049.7 1374.9,1052.2 1377.7,1051.1 1380.4,1051.8 1383.2,1051.9 1385.9,1053.8 1388.6,1054.6 1391.4,1055.9 1394.1,1051.5 1396.9,1053.6 1399.6,1052.4 1402.4,1052.9 1405.1,1053.2 1407.9,1055.1 1410.6,1052.1 1413.4,1055.6 1416.1,1053.2 1418.9,1052.1 1421.6,1051 1424.4,1051.3 1427.1,1051.1 1429.9,1046.4 1432.6,1045.4 1435.3,1043.4 1438.1,1041.1 1440.8,1040.8 1443.6,1041.6 1446.3,1040.6 1449.1,1038.7 1451.8,1036.8 1454.6,1033.6 1457.3,1030.3 1460.1,1028.8 1462.8,1025.8 1465.6,1020.4 1469.2,1015.3 1472,1016 1474.7,1018.3 1478,1022.9 1480.7,1022.6 1483.5,1022.1 1486.2,1024.6 1489,1023.5 1491.7,1030.1 1494.5,1032.8 1497.2,1039.4 1500,1045.1 1502.7,1049.6 1505.5,1052.8 1508.2,1058.2 1511,1059.8 1513.4,1061.9 1515.9,1061.6 1518.3,1063 1520.7,1063.4 1523.2,1064.7 1525.6,1064.2 1528.1,1067.5 1530.5,1063.2 1532.9,1065.6 1535.4,1063.5 1537.8,1068.7 1540.3,1065.4 1542.7,1065.3 1545.2,1066.8 1547.6,1063.6 1550,1066.8 1552.5,1068.6 1554.9,1068.9 1557.4,1067.8 1559.8,1072 1562.2,1070.1 1564.7,1067.7 1567.1,1069.1 1569.6,1069.7 1572,1067 1574.5,1065.7 1576.9,1066.6 1579.3,1067.8 1581.8,1066.8 1584.2,1064.1 1586.7,1063.3 1589.1,1061.2 1591.6,1063 1594,1063.2 1596.4,1061.1 1598.9,1061.6 1601.3,1064.3 1603.8,1065.5 1606.2,1065.4 1608.6,1069.3 1611.1,1070.4 1613.5,1068.3 1616,1067.8 1618.4,1068.8 1620.9,1069.1 1623.3,1070.2 1625.7,1074.8 1628.2,1075.8 1630.9,1078.8 1633.7,1078.1 1636.4,1079 1639.2,1081.1 1641.6,1080.3 1644.1,1081.3 1646.5,1083.6 1648.9,1083.8 1651.4,1085.2 1653.8,1083.2 1656.6,1086 1659.3,1084.2"/>
<polyline id="c-cyan-r" points="1694.8,1125.8 1697.4,1128.3 1700,1127.4 1702.5,1127.3 1705.1,1127.5 1707.3,1127.9 1709.5,1126.1 1711.7,1127.3 1713.9,1124.2 1716.1,1126.1 1718.3,1126.7 1720.5,1124.1 1722.7,1124.2 1724.9,1127.2 1727.1,1124.4 1729.3,1124.4 1731.5,1126.8 1733.7,1124.7 1735.9,1128.2 1738.1,1128.7 1740.3,1129 1742.5,1125.8 1744.7,1128 1746.9,1128.9 1749.1,1127.7 1751.3,1128.3 1753.5,1128.8 1755.7,1128.1 1757.9,1130 1760.1,1127.8 1762.2,1128.8 1764.4,1127.1 1766.6,1127 1768.8,1127.5 1771,1126.2 1773.2,1125.4 1775.4,1125.2 1777.6,1127.5 1779.8,1125.1 1782,1126.8 1784.2,1124.8 1786.4,1126.8 1788.6,1124.2 1790.8,1126.7 1793,1124.3 1795.2,1125.2 1797.4,1128.1 1799.6,1128.1 1801.8,1129.4 1804,1127.1 1806.2,1127 1808.4,1130.2 1810.6,1128 1812.8,1129.6 1815,1129.7 1817.2,1127.6 1819.4,1128.2 1821.6,1128.2 1823.8,1128.3 1826,1127.1 1828.2,1130 1830.4,1129 1832.6,1127.8 1834.8,1130.5 1837,1128.8 1839.2,1127.4 1841.4,1128.2 1843.6,1129.7 1845.8,1126.8 1848,1127.2 1850.2,1125.3 1852.4,1127.3 1854.6,1125.9 1856.8,1129.2 1859,1126.8 1861.4,1124.5 1863.8,1127.2 1866.3,1126.1 1868.7,1124.9 1871.2,1121.6 1873.6,1122.6 1876.4,1121.6 1879.1,1117 1881.8,1114.9 1884.6,1112.8 1887.3,1110.9 1890.1,1107.6 1892.8,1111.8 1895.6,1111.7 1898.3,1112.4 1901.1,1114.4 1903.8,1115.1 1906.6,1116.3 1909.3,1119.1 1912.1,1120.5 1914.8,1117.6 1917.6,1118.5 1920.3,1120.8 1923.1,1121.5 1925.8,1119.2 1928.5,1118.7 1931,1119.5 1933.4,1116.8 1935.9,1118.6 1938.3,1116.8 1940.8,1118.7 1943.2,1118 1945.9,1118.7 1948.7,1118.7 1951.4,1123 1954.2,1124.2 1956.6,1123.9 1959.1,1128.3 1961.5,1126.3 1964,1126.2 1966.4,1127.7 1968.8,1129.4 1971.3,1126.9 1973.7,1129.1 1976.2,1128.6 1978.6,1127.4 1981.1,1130.5 1983.5,1129.5 1985.9,1128.3 1988.4,1129.4 1990.8,1131.3 1993,1132.6 1995.2,1130.8 1997.4,1129.8 1999.6,1129.5 2001.8,1131.5 2004,1130.1 2006.2,1134 2008.4,1132.3 2010.6,1134.1 2012.8,1132.8 2015,1130.9 2017.2,1130.9 2019.4,1133.6 2021.6,1132.8 2023.8,1132.9 2026,1133.7 2028.2,1132.8 2030.4,1134 2032.6,1131.9 2034.8,1133.1 2037,1133.9 2039.2,1133.1 2041.4,1131.6 2043.6,1130.7 2045.8,1133.3 2048,1134.6 2050.2,1131.5 2052.4,1132.2 2054.6,1133 2056.8,1132.8 2058.6,1135.8 2060.4,1138.3 2062.2,1136 2064.1,1132.6 2066.3,1133.3 2068.5,1132.8 2070.7,1133.8 2072.9,1132.1 2075.1,1133.5 2077.3,1133.9 2079.5,1134.6 2081.7,1133.6 2083.9,1133 2086.1,1132.9 2088.3,1134.5 2090.5,1132.3 2092.7,1132.4 2094.8,1133 2097,1133.6 2099.2,1132.3 2101.4,1132.5 2103.6,1132.9 2105.8,1133.5 2108,1132.8 2110.2,1132.8 2112.4,1133.8 2114.6,1133.5 2116.8,1131.7 2119,1131.5 2121.2,1131.8 2123.4,1132 2125.6,1134 2127.8,1132 2130,1131.9 2132.2,1131.3 2134.4,1130.9 2136.6,1129.8 2138.8,1133 2141,1130.5 2143.2,1133.3 2145.4,1130.3 2147.6,1132.3 2149.8,1132.4 2152,1131.9 2154.2,1133 2156.4,1133.5 2158.6,1131 2160.8,1131.4 2163,1132.2 2165.1,1134.2 2167.1,1131.7 2169.2,1131"/>
<polyline id="c-green-l" points="203.3,406.6 206,407.4 208.8,402.2 212.5,418.2 214.7,421.8 216.8,428 219.8,419.5 222,416.1 224.2,417.1 226.6,423.5 228.9,427.7 231.7,434.3 234.4,440.2 238.1,450.5 241.8,473.1 245.4,491 248.2,498.5 250.9,508.6 254.6,534.6 256.4,549.5 258.9,553.3 261.3,562.5 263.7,566.1 266.2,567.5 268.6,571.6 271.1,577.4 273.8,582.1 276.6,582.7 279.3,580.9 282.1,580.2 284.8,585.6 287.5,588.4 290.3,594.5 293,595.6 295.8,593.2 298.5,598.3 301.3,598.7 304,604.9 306.8,609.1 309.5,607.1 313.2,618.8 315.9,611 318.7,608 321.1,612 323.6,606.1 326,608.3 328.8,609.5 331.5,606.4 334.2,604 337,607.7 339.7,606 342.5,605 345.2,598.1 348,591.3 350.7,591 353.5,595.7 357.1,606 359.9,607.1 362.6,614.6 365.4,607.9 368.1,602.4 370.9,599.1 373.6,595.2 376.4,597.5 379.1,596 381.9,597.8 384.6,593.5 387.4,588.5 390.1,583.4 392.9,592.2 395.6,598.9 398.4,596.4 401.1,602 403.8,597.2 406.6,597.7 409.3,600.3 412.1,593.2 414.8,599.8 417.6,597.8 420.3,602.8 423.1,609.1 425.5,610.9 428,607.1 430.4,606.5 433.2,604 435.9,603.9 438.6,608.3 441.4,610.9 444.1,609.7 446.9,612.4 449.6,612.5 452.4,614.4 456,629.6 458.8,623.6 461.5,626.2 465.2,638.3 468.9,657.1 472.5,671.1 476.2,688.3 479.9,711.2 483.5,732.3 487.2,746.9 489.9,750.6 492.7,759.2 495.4,760.2 498.2,767.4 500.9,768.7 503.7,767.3 507.3,759.7 510.1,764.2 512.8,774.2 516.5,764 519.2,761.3 522,760.6 525.6,745.7 529.3,753.9 532.1,745.3 534.8,733.7 537.5,733.3 540.3,729.4 543,717.5 545.8,704.5 548.5,696.9 551.3,690.4 554.9,670.6 558.6,641.2 562.3,604.9 565.9,549.9 569.6,494.8 573.3,439.7 576.9,402.8 579.3,394.6 581.7,387.2 585,421.4 587.9,494.4 589.7,534.5 590.8,568.3 593,594.8 595.2,623.3 598.9,659.7 601.6,679 604.4,696.2 607.1,709.8 609.9,724.9 612.6,738.9 615.4,749.6 618.1,750.6 620.9,758.4 623.6,756.1 626.4,758.1 629.1,752.6 631.9,753.3 634.6,755.2 637.4,761 640.1,752.5 642.9,747.9 646.5,725.3 648.9,718.5 651.3,706.9 653.5,716.8 655.7,725.1 658.4,733.7 661.2,744.4 663.9,751.7 666.7,762.8 669.4,770.3 672.2,779.7 674.9,783.9 677.7,792.4 680.4,792.3 683.2,795.7 685.9,805.1 688.6,812 691.4,813 694.1,812.4 697.8,809.7 700,806.2 702.7,803.7 705.5,800.3 708.2,798.5 711,795.3 713.7,797.5 716.5,800.1 720.1,809 723.8,820.4 726.6,819.1 729.3,812.7 732.1,811.9 734.8,815.9 737.5,811.6 740.3,809.6 743,812.1 745.8,820.7 748.5,820.9 751.3,823.4 754,818.7 756.8,818.3 759.5,824.1 762.3,822.6 765,822.6 767.8,821 770.5,818.4 773.3,819.2 776,821.6 778.8,821.6 781.5,816.3 784.2,808.5 787,806.6 789.7,806.1 792.5,808 795.2,808.5 798,814.8 800.7,814.9 803.5,816.8 806.2,823.2 809,826.3 811.7,827.3 814.5,829.5 817.2,834.4 820.9,842.1 823.6,842.5 826.4,834.4 829.1,840.6 831.9,841.4 834.6,847.7 837.4,852 840.1,852.9 842.9,857.7 845.6,858.8 848.4,858.4 851.1,856.4 853.8,849.9 856.6,850 859.3,853.8 862.1,853.8 864.8,847.7 867.6,856.1 870.3,857.1 873.1,852.5 875.8,847.7 878.6,845.6 881.3,850.3 884.1,842 886.8,837.9 889.6,835.8 892.3,832.6 896,834.2 898.7,839.6 901.5,848.5 904.2,844.7 907,844.8 909.7,846.4 912.5,848.2 915.2,847.3 917.9,852.4 920.7,854.9 923.4,857.8 926.2,863.9 928.9,865.4 931.7,862.1 934.4,861.3 937.2,860.8 939.9,865 943.6,871.8 946.3,874.9 949.1,878.8 951.8,872.5 954.6,874.9 957.3,873.7 960.1,874.7 962.8,873.5 965.6,871.3 968.3,871.3 971.1,879.2 973.8,870.6 976.6,864.1 979.3,870.2 982.1,871.3 984.8,870.7 987.5,869.6 990.3,868.7 993,864.1 995.8,865.7 998.5,869.8 1001.3,862.6 1004,858.6 1006.8,859.2 1009.5,862.7 1012.3,862.3 1015,865.1 1017.8,862.1 1020.5,861.5 1023.3,866.6 1026,863.1 1028.8,857.3 1031.5,856.1 1034.2,861.7 1037,868.6 1039.7,867.5 1042.5,864.6 1045.2,865.8 1048,868.8 1050.7,865.4 1053.5,860 1056.2,864 1059,866.4 1061.7,860.7 1064.5,860.5 1067.2,856.9 1070,854.8 1072.7,853.6 1075.5,857.7 1078.2,855.6 1081,857.8 1083.7,857.5 1086.4,861.2 1089.2,853.6 1091.9,853.9 1094.7,853.1 1097.4,851 1101.1,854.1 1103.5,852.3 1105.9,845.6 1108.1,849 1110.3,851.5 1113,847.8 1115.8,850.3 1118.5,851.7 1121.2,854.9 1124,854.3 1126.7,850.7 1130.4,857.7 1133.2,851.7 1135.9,848.9 1138.6,842.3 1141.4,837.9 1145.1,846.8 1148.7,831.6 1151.5,830.3 1154.2,823.5 1157,821.7 1159.7,821.4 1163.4,809.7 1167,798.4 1170.7,784 1174.4,776.5 1178,769.4 1180.8,773.9 1183.5,774.6 1187.2,778.8 1189.9,779.1 1192.7,773.1 1196.3,764.7 1200,756.2 1203.7,748.7 1206.4,748.5 1209.2,747.9 1211.9,746.2 1214.7,749.6 1218.3,746.3 1220.7,745 1223.1,741.2 1225.3,748.4 1227.5,754.1 1231.1,773.7 1234.8,783.6 1238.5,789.7 1242.1,796.6 1244.9,799.9 1247.6,803.8 1250.4,807.9 1253.1,807.5 1256.8,815.7 1260.4,821.4 1264.1,826.1 1267,832.7 1270.7,823.4 1274.4,834.7 1278,840.1 1280.2,838.3 1282.4,838.2 1285.2,835.2 1287.9,834.3 1290.7,832.4 1293.4,831.1 1296.2,827.9 1298.9,824.1 1301.6,822 1304.4,816.7 1308.1,810.6 1311.7,819.7 1314.5,823.8 1317.2,827.5 1320,831.7 1322.7,835.7 1325.5,840.5 1328.2,845 1331,844.8 1333.7,850.4 1336.4,852.9 1339.2,854.2 1341.9,851.7 1344.7,849.6 1347.4,846.9 1350.2,846.2 1352.9,853.1 1355.7,856.9 1358.4,860.1 1361.2,860.6 1363.9,860.3 1366.7,862.8 1369.4,866.5 1372.2,873.6 1374.9,865.6 1377.7,862.1 1380.4,862.7 1383.2,867.6 1385.9,866.3 1388.6,865.5 1391.4,867.1 1394.1,868.6 1396.9,866.3 1399.6,866.6 1402.4,868.4 1405.1,870.7 1407.9,870.4 1410.6,870.6 1413.4,873.6 1416.1,868.5 1418.9,863.9 1421.6,862.4 1424.4,866.4 1427.1,865.8 1429.9,859.4 1432.6,858.3 1435.3,855 1438.1,853.2 1440.8,858.8 1443.6,860.4 1446.3,856.4 1449.1,852.8 1451.8,851.2 1454.6,855.9 1457.3,850.5 1460.1,846.1 1462.8,837.2 1465.6,834.6 1468.3,838.2 1471.1,832 1474.7,836.6 1478,842.2 1480.7,846.4 1483.5,845.2 1486.2,852.7 1489,855.1 1491.7,855.4 1494.5,862.4 1497.2,864.2 1500,872.8 1502.7,878.5 1505.5,886.3 1508.2,884.8 1511,886.5 1513.7,889.5 1516.5,892.3 1519.2,892.1 1522,891 1524.7,898.4 1527.5,898.2 1530.2,903.9 1532.9,905 1535.7,902.1 1538.4,908.7 1542.1,915.2 1545.8,903.7 1548.5,910.3 1551.3,909.9 1554,909 1556.8,911.3 1559.5,907.4 1562.2,906.7 1565,904 1567.7,906 1570.5,900.5 1573.2,902.8 1576,904.1 1578.7,909.3 1581.5,910.7 1584.2,908.2 1587,912.7 1589.7,915.2 1592.5,917.6 1595.2,919.9 1598,919.7 1600.7,915.4 1603.5,921.1 1606.2,923 1609,924.8 1611.7,927.4 1614.4,923.5 1617.2,924.5 1619.9,921.9 1622.7,926.1 1625.4,931.8 1628.2,930.5 1630.9,925.6 1633.7,926 1636.4,927.4 1639.2,928.2 1641.9,932.5 1644.7,929.8 1648.3,931.9 1651.1,927.1 1653.8,923.3 1656.6,930.1 1659.3,933.5"/>
<polyline id="c-green-r" points="1694.8,1015.2 1697.2,1015.1 1699.6,1020 1702.4,1018.6 1705.1,1021.6 1707.9,1016.9 1710.6,1017.7 1713.3,1019.6 1716.1,1016.6 1718.8,1015.6 1721.6,1019.8 1724.3,1017.6 1727.1,1015.9 1729.8,1012.7 1732.6,1014.4 1735.3,1012 1738.1,1014.9 1740.8,1017.2 1743.6,1019.4 1746.3,1018.4 1749.1,1016.4 1751.8,1019 1754.6,1021.7 1757.3,1022.5 1760.1,1018.5 1762.8,1019.5 1765.5,1017.3 1768.3,1017.6 1771,1016.3 1773.8,1014.2 1776.5,1012.4 1779.3,1008.7 1782,1008.3 1784.8,1010.5 1787.5,1007.5 1790.3,1012.3 1793,1015.8 1795.8,1014 1798.5,1013.7 1801.3,1012.9 1804,1010.2 1806.8,1008.6 1809.5,1011.3 1812.2,1006.4 1815,1011.5 1817.7,1014.8 1820.5,1015.4 1823.2,1011.8 1826,1008.7 1828.7,1008.9 1831.5,1005.3 1834.2,1006.1 1837,1005.7 1839.7,1003.2 1842.5,1003 1845.2,1005.2 1848,1006.9 1850.7,1005.8 1853.5,1009.8 1855.3,1002.6 1857.1,999.5 1859.9,996 1862.6,998.6 1864.4,994.8 1866.3,988.9 1868.1,981.7 1869.9,975.7 1871.8,967.3 1873.6,960.7 1875.4,948.7 1877.3,938.4 1879.1,922.5 1880.9,908.7 1883.9,879.4 1886.4,854.2 1888.3,848.9 1891.2,857 1893.8,865 1896.3,890.6 1899.2,923.5 1902.2,953.3 1904.7,974.4 1906.6,978.9 1908.4,984.9 1911.2,989.9 1913.9,989.2 1915.7,993.9 1917.6,999.8 1919.4,1001.2 1921.2,1007.2 1924,1007 1926.7,1001.1 1929.5,1001.8 1932.2,1003 1935,998.8 1937.7,995.2 1939.5,992.4 1941.4,992 1944.3,984.8 1946.5,992.3 1948.7,996.4 1951.4,1003.8 1954.2,1006 1956.9,1012.1 1959.7,1016.4 1962.4,1020.3 1965.2,1021 1967.9,1024.3 1970.7,1023.1 1973.4,1026.3 1976.2,1027.1 1978.9,1030.2 1981.7,1029.2 1984.4,1027.3 1987.2,1028.1 1989.6,1028 1992,1033.7 1994.5,1030.4 1996.9,1030.7 1999.4,1030.8 2001.8,1033.3 2004.3,1034.6 2006.7,1035.3 2009.1,1033.8 2011.6,1035.7 2014,1036.9 2016.5,1034.3 2018.9,1037.4 2021.3,1033.2 2023.8,1032.8 2026.2,1033.7 2028.7,1036.3 2031.1,1035.5 2033.6,1036.6 2036,1038.3 2038.4,1034.4 2040.9,1036.1 2043.3,1039.2 2045.8,1035.8 2048.2,1034 2050.6,1034.2 2053.1,1035.3 2055.5,1038.1 2058,1033.2 2060.4,1037 2062.9,1036.9 2065.3,1033.5 2067.7,1036.1 2070,1040 2072.3,1039 2074.6,1042.5 2076.9,1040.7 2079.6,1039.1 2082.4,1035.4 2084.8,1038.7 2087.3,1036.7 2089.7,1040.1 2092.2,1034.7 2094.6,1037.6 2097,1033.8 2099.5,1033.6 2101.9,1035.6 2104.4,1037.9 2106.8,1040.3 2109.3,1039.2 2111.7,1038.9 2114.1,1039 2116.6,1040.3 2119,1035.4 2121.5,1036.8 2123.9,1035.4 2126.4,1037.4 2128.8,1040.4 2131.2,1036.6 2133.7,1035.5 2136.1,1037.3 2138.6,1036.5 2141,1038.9 2143.4,1036.8 2145.9,1037.5 2148.3,1036.7 2150.8,1034.6 2153.2,1038.3 2155.7,1038.6 2158.1,1039.3 2160.5,1039.2 2163,1042.2 2165.1,1042.9 2167.1,1041.5 2169.2,1038"/>
<polyline id="c-red-l" points="203.3,291.2 205.7,293.7 208.1,300.6 210.3,300.9 212.5,302.5 214.8,296.1 217.2,289.9 219.8,284.8 222.3,284.2 226.4,289.1 228.6,293.8 230.8,296.4 234.4,313.9 238.1,330.5 241.8,347.6 245.4,366 249.1,395.9 252.7,408.9 256.4,422.3 260.1,430 263.7,438.5 266.5,445.7 269.2,448.7 271.6,443.3 274,444 276.6,447.5 279.1,451.5 282.1,457.3 285,457.4 287.2,454.7 289.4,457.1 291.8,457.1 294.3,457.7 296.7,461.7 299.1,465.2 301.6,468.9 304,470.8 306.5,471.5 308.9,476.5 311.4,477.7 314.1,479.6 316.8,476.9 319.6,482.3 322.3,482.6 325.1,484.2 327.8,479.2 330.6,482.2 333.3,486.1 336.1,478.9 338.8,479.2 341.6,482.5 344.3,482.1 347.1,480.3 349.8,473.1 353.5,479.5 356.2,472.3 359,470.2 361.7,475.9 364.5,476 367.2,472.8 370,467.5 372.7,468.5 375.5,475.5 378.5,468.8 381.6,467.2 384.6,464 387.4,468 390.1,470.9 392.9,476.3 395.6,475.3 398.4,471.6 401.1,468 403.8,473.9 406.6,474.6 409.3,477.1 412.1,472 414.8,474.9 417.6,475.1 420,473.6 422.5,475.2 424.9,471.5 428.6,479.7 431.3,485.3 434.1,484.7 437.7,471.6 441.4,482.7 444.1,483.4 446.9,476.2 449.6,484.3 452.4,488.4 456,496.1 459.7,492.7 463.4,512.4 466.1,522.5 468.9,531.7 471.6,536.9 474.4,545.5 478,567.9 481.7,589.9 484.4,592.8 487.2,595.7 489.9,604.2 492.7,616 495.1,612.9 497.6,618.2 500,618 502.7,615.4 505.5,615.5 508.2,616.9 511,619.5 513.4,616.8 515.9,614.2 518.3,616 520.8,612.2 523.2,606.2 525.6,606.2 528.4,602 531.1,596.1 533.6,591.8 536,585.1 538.5,581.8 541.2,573.2 544,568.9 547.6,549.9 549.5,542.8 552.4,524.5 555.3,505.4 558.2,472.7 561.2,439.9 563.9,393.2 566.7,347.7 570.3,274.8 572.9,229.5 575.5,183 578.8,146.7 581.7,131.5 584.2,153.9 586.4,205.2 589,293.1 591.9,366.2 596,439.7 599.3,475.6 602.6,513 604.9,527.1 607.3,542.7 609.9,549.9 612.6,562.1 615.4,571 617.8,578.7 620.3,585.2 622.7,590.1 625.5,589 628.2,586.5 631.9,593 634.6,590.4 637.4,585.4 641,572.7 644.7,550.6 648.4,505.1 651.3,481.6 653.8,501.7 657.5,541.8 659.3,549.1 662.1,566.9 664.8,586.5 667.6,600.2 670.3,611.4 673.1,617.2 675.8,625.4 678.6,628 681.3,627.9 685,638.9 687.4,637.6 689.9,635.5 692.3,639.1 695.1,636.9 697.8,640.4 700,638.1 703.7,623.2 707.3,600.5 710.3,585.6 712.8,582.6 715.4,594.2 718.3,615.6 722,634.3 724.7,637.5 727.5,640.4 730.2,644.4 733,640.5 736.6,644.5 739.4,644.1 742.1,640 745.8,636.4 748.5,642.3 751.3,639.2 754.9,635.2 757.7,636.8 760.4,631.1 763.2,634 765.9,632.3 768.7,627.5 771.4,624.8 774.2,622.3 776.9,612.8 780.6,610 784.2,594.3 787.9,586.6 791.6,583.6 793.8,588.8 796,588.3 799.6,601.3 802.6,616 806.2,621.8 809.9,635.8 812.1,632.3 814.3,630.3 817.9,645.7 820.3,650.9 822.7,659.2 825.5,663.4 828.2,669.6 831,675.8 833.7,679.5 836.1,681.8 838.6,681.2 841,679.2 843.8,683.4 846.5,688.8 849,685.2 851.4,689.7 853.8,687.4 856.3,690.4 858.7,693.2 861.2,690.8 863.6,692.1 866.1,693.6 868.5,691.3 870.9,691.7 873.4,688.3 875.8,689.7 878.6,693.9 881.3,689.9 884.1,688.7 886.8,692.4 889.6,690.5 892.3,684.7 895.1,680.3 897.8,680.3 900.5,677.9 903.3,678.2 906,684 908.8,683.1 911.5,686.8 914.3,688.7 917,688.3 919.8,692.1 922.5,692.7 925.3,697.2 928,698.3 930.8,700.5 934.4,698.1 937.2,704.4 939.9,710.7 942.7,708 945.4,709 948.2,709.3 950.9,712.2 953.7,709.3 956.4,710.7 959.2,712 961.9,707.9 964.7,707.2 967.4,713.3 970.1,713.2 972.9,713.1 975.6,709.2 978.4,708.7 981.1,704.4 983.9,707.3 986.6,703.9 989.4,705.6 992.1,704.6 994.9,708.6 997.3,700.8 999.6,698.9 1001.8,703 1004,702.9 1006.8,702.5 1009.5,708.4 1012.3,705.1 1015,707.8 1017.8,713.1 1020.5,712.8 1023.3,709.1 1026,711.8 1029.7,717.6 1032.4,715 1035.2,714.6 1037.9,717.2 1040.7,717.4 1043.4,717.4 1046.2,713.8 1048.9,710.1 1051.6,713.8 1054.4,714 1057.1,714.1 1059.9,710.5 1062.6,710 1065.4,707 1068.1,705.5 1070.9,700.7 1073.6,695.6 1076.4,699.2 1079.1,700.9 1081.9,702.2 1084.6,700.9 1087.4,705.9 1090.1,705.4 1093.8,707 1096.5,708.1 1099.3,701.5 1102,701.6 1104.8,702 1107.5,698.4 1110.3,699 1113,705.6 1115.8,704.7 1118.5,702.2 1121.2,696.4 1124,699.1 1126.7,698.8 1129.5,700.5 1132.2,703.4 1135,702 1137.7,699.4 1140.5,695.3 1143.2,694.6 1146,695.9 1148.7,697.7 1151.5,693.4 1154.2,688.3 1157,681.8 1159.7,677.7 1162.5,671.4 1165.2,663.2 1167.9,664.7 1170.7,659.6 1174.4,644.8 1176.2,636.7 1179.1,652.7 1181.7,671.5 1185.3,680.5 1188.1,682.2 1190.8,684.7 1193.6,680.5 1196.3,683.1 1199.1,681.9 1201.8,680 1204.6,677.1 1207.3,669.6 1210.1,670.6 1212.8,672.5 1215.6,670.8 1218.3,667.9 1221.1,667.1 1223.8,661.1 1226.6,660.5 1229.3,659.8 1232.1,654.2 1234.8,652 1238.5,646 1242.1,650.5 1244.9,645.1 1247.6,642.6 1250.4,638.6 1253.1,634.7 1255.9,639.5 1258.6,638.7 1261.4,636.8 1264.1,632.1 1266.8,631.3 1269.6,630.1 1272.3,632.7 1275.1,630.3 1277.8,635.1 1280.6,633.4 1283.3,630.4 1286.1,629.4 1288.8,627.6 1291.6,625 1294.3,622.8 1297.1,616 1300.7,586 1304.4,561.6 1306.2,553.4 1307.3,538.1 1309.2,526.9 1311,537.7 1312.5,553.9 1315.4,579.4 1319,604.9 1322.7,619.1 1325.5,624.8 1328.2,624.7 1331,618.7 1333.7,618.9 1337.4,616.7 1340.1,616.7 1342.9,621.9 1345.6,620.8 1348.4,619.7 1352,618 1355.7,629.8 1359.3,639 1363,650.1 1365.8,655.9 1368.5,656.2 1371.2,656.6 1374,662.9 1376.7,664.6 1379.5,664.5 1382.2,667.4 1385,665.4 1387.7,668.6 1390.5,667.6 1393.2,667.4 1396,665.9 1398.7,669.9 1401.5,669.2 1404.2,673.2 1407,669.3 1409.7,669.6 1412.5,666 1415.2,671.9 1417.9,670.2 1420.7,669.1 1423.4,668.3 1426.2,671.9 1428.9,670.6 1431.7,668.2 1434.4,664.6 1438.1,665.3 1441.8,673.1 1444.5,673 1447.3,677.8 1450,680.8 1452.7,681.2 1455.5,680.5 1458.2,680.1 1461,680.4 1463.7,682.7 1466.5,678.9 1469.2,684.9 1472,685.7 1474.7,687.9 1478,683.8 1480.7,686.9 1483.5,686.6 1486.2,691.1 1489,688.5 1491.7,693.4 1494.5,695.9 1497.2,693.3 1500,692.5 1502.7,697.2 1505.5,694.9 1508.2,700.6 1511,699.3 1513.7,702.8 1516.5,705.8 1519.2,700.8 1522,700.8 1524.7,697.2 1527.5,701.1 1530.2,703.5 1532.9,700.2 1535.7,702.5 1538.4,706.2 1541.2,706.5 1543.9,703.1 1546.7,705.5 1549.4,701.6 1552.2,699.1 1554.9,705 1557.7,706 1560.4,703.2 1563.2,704.5 1565.9,702.9 1568.7,707.4 1571.4,708 1574.2,709 1576.9,714.3 1579.6,710.2 1582.4,708.7 1585.1,713.9 1587.9,713.2 1590.6,714.1 1593.4,712 1596.1,714.6 1598.9,716 1601.6,721.6 1604.4,722 1608,725.1 1610.8,722.2 1613.5,723.2 1616.3,719.2 1619,724.6 1621.8,723.2 1624.5,727.5 1627.3,728 1630,728.9 1632.8,725.6 1635.5,728.5 1638.3,728.4 1641,730.1 1644.7,723.2 1648.3,733.8 1652,734.7 1655.7,730.7 1659.3,735.2"/>
<polyline id="c-red-r" points="1694.8,828.4 1697.2,829.3 1699.6,830.3 1702.4,831.6 1705.1,827.8 1707.9,827.7 1710.6,825.8 1713.3,824.2 1716.1,823.4 1718.8,828.2 1721.6,828.8 1724.3,830.2 1727.1,830.8 1729.8,830.8 1732.6,829.3 1735.3,831.6 1738.1,830.2 1740.8,830 1743.6,827.3 1746.3,829.1 1749.1,831.3 1751.8,834.4 1754.6,834.7 1757.3,830.5 1760.1,831.7 1762.8,831.3 1765.5,828.1 1768.3,830.1 1771,825.1 1773.8,824 1776.5,823.7 1779.3,825.3 1782,823.7 1784.8,822.4 1787.5,820.2 1790.3,818.6 1793,819.7 1795.8,818.8 1798.5,822.7 1801.3,821.4 1804,821.2 1806.8,817.6 1809.5,819.1 1812.2,816.9 1815,814.7 1817.7,814.3 1820.5,813.7 1823.2,814.3 1826,810.4 1827.8,809 1829.6,806.8 1831.5,801.4 1833.3,797.1 1835.1,793.2 1837,788.4 1839.9,783.7 1842.5,787.4 1844.3,790.7 1846.1,798.2 1848,800.2 1849.8,799.9 1852.5,800.9 1855.3,796.7 1858,793.4 1860.8,792.2 1863.5,791.2 1866.3,784.2 1869,780 1871.8,773 1873.6,763.5 1875.4,755.1 1877.3,741.3 1879.1,725.7 1880.9,707.6 1882.8,688.9 1885.3,641.8 1888.3,597.8 1891.2,581.2 1894.1,604.5 1896.7,652.7 1899.2,696.5 1902.2,733.4 1904.7,759 1906.6,764.6 1908.4,773.7 1910.2,778.2 1912.1,785.2 1913.9,792.2 1915.7,799.4 1917.6,800.7 1919.4,803.9 1921.6,804.9 1923.8,807.4 1926.2,808.1 1928.5,802.5 1931.3,797.2 1934,792.5 1935.9,784.3 1937.7,776.9 1939.5,767.8 1941.4,761.2 1943.2,755.9 1945,751.4 1946.9,757 1948.7,762.1 1950.5,768.7 1952.4,777.3 1954.2,784.4 1956,788.9 1957.9,794.6 1959.7,798.2 1961.5,801.7 1963.3,807 1965.2,809.9 1967,812.9 1968.8,816.2 1970.7,821.9 1973.4,825.1 1976.2,826 1978.9,824.2 1981.7,828.5 1984.4,827.6 1987.2,831.4 1989.9,832.5 1992.7,836.5 1995.4,837.1 1998.1,835 2000.9,835.4 2003.6,834.8 2006.4,838.8 2009.1,839.1 2011.9,836.7 2014.6,842 2017.4,842.1 2020.1,838.2 2022.9,835.6 2025.6,834.3 2028.4,835.5 2031.1,837.9 2033.9,841.3 2036.6,838.1 2039.4,841.4 2042.1,838 2044.5,839 2047,840.8 2049.4,838.5 2051.9,840.2 2054.3,841.5 2056.8,839.9 2059.2,842.8 2061.6,843.7 2064.1,840.6 2066.5,843.5 2069,836.8 2071.4,838 2074.2,839.8 2076.9,835.3 2079.6,839.3 2082.4,841.7 2084.8,838.6 2087.3,844.3 2089.7,841.4 2092.2,839.4 2094.6,841.5 2097,837.8 2099.5,836.4 2101.9,836.9 2104.4,838.4 2106.8,841.2 2109.3,839.5 2111.7,840.8 2114.1,839.5 2116.6,840.1 2119,843.1 2121.5,840 2123.9,844 2126.4,841.4 2128.8,842.2 2131.2,844 2133.7,840.5 2136.1,844.6 2138.6,841.2 2141,840.7 2143.4,839.2 2145.9,845 2148.3,842.3 2150.8,839.6 2153.2,844.9 2155.7,844.2 2158.1,846.3 2160.5,843.8 2163,842.5 2165.1,845.1 2167.1,844.5 2169.2,839.9"/>
<clipPath id="clip-g">
<rect x="216.6" y="249.2" width="223.4" height="1098.6" rx="21" ry="21" />
<rect x="848.6" y="490" width="93.7" height="860.8" rx="12" ry="12" />
</clipPath>
<clipPath id="clip-b">
<rect x="504.2" y="97.4" width="164.2" height="1250.4" rx="19" ry="19" />
<rect x="685.2" y="490" width="145.8" height="860.8" rx="18" ry="18" />
<rect x="1131.8" y="500.7" width="246.2" height="207.4" rx="25" ry="25" />
<rect x="1801.5" y="558.7" width="175.3" height="888.5" rx="22" ry="22" />
</clipPath>
<clipPath id="clip-y">
<rect x="1131.8" y="729.6" width="156.7" height="744.7" rx="24" ry="24" />
<rect x="1398" y="802.6" width="157.8" height="668.4" rx="24" ry="24" />
</clipPath>
</defs>
<rect width="2278" height="1777" fill="#fefefe"/>
<g id="axes" stroke="#000" stroke-width="5.2" fill="none" stroke-linecap="butt">
<path d="M203.3 51.9 V1531.8"/>
<path d="M2170 51.9 V1531.8"/>
<path d="M203.3 54.5 H1657 M1698 54.5 H2170"/>
<path d="M203.3 1499.8 H1657 M1698 1499.8 H2170"/>
<path d="M1642.7 85.5 L1677.9 23.5" stroke-width="5"/>
<path d="M1677.4 85.5 L1712.6 23.5" stroke-width="5"/>
<path d="M1642.7 1530.8 L1677.9 1468.8" stroke-width="5"/>
<path d="M1677.4 1530.8 L1712.6 1468.8" stroke-width="5"/>
<path d="M203.1 1499.8 V1531.8 M385.2 1499.8 V1531.8 M567.4 1499.8 V1531.8 M749.5 1499.8 V1531.8 M931.6 1499.8 V1531.8 M1113.8 1499.8 V1531.8 M1295.9 1499.8 V1531.8 M1478 1499.8 V1531.8 M1789.4 1499.8 V1531.8 M1979.3 1499.8 V1531.8 M2169.3 1499.8 V1531.8 M294.2 1499.8 V1516.8 M476.3 1499.8 V1516.8 M658.4 1499.8 V1516.8 M840.6 1499.8 V1516.8 M1022.7 1499.8 V1516.8 M1204.8 1499.8 V1516.8 M1386.9 1499.8 V1516.8 M1569.1 1499.8 V1516.8 M1694.5 1499.8 V1516.8 M1884.4 1499.8 V1516.8 M2074.3 1499.8 V1516.8 M203.3 164.3 H171.3 M203.3 319.8 H171.3 M203.3 475.2 H171.3 M203.3 630.6 H171.3 M203.3 786.1 H171.3 M203.3 941.5 H171.3 M203.3 1097 H171.3 M203.3 1252.4 H171.3 M203.3 1407.9 H171.3 M203.3 86.6 H186.3 M203.3 242 H186.3 M203.3 397.5 H186.3 M203.3 552.9 H186.3 M203.3 708.4 H186.3 M203.3 863.9 H186.3 M203.3 1019.3 H186.3 M203.3 1174.7 H186.3 M203.3 1330.2 H186.3 M203.3 1485.6 H186.3"/>
</g>
<g id="curves" fill="none" stroke-linejoin="round" stroke-linecap="round">
<use href="#c-black-l" stroke="#0c0c0c" stroke-width="3.8"/>
<use href="#c-black-r" stroke="#0c0c0c" stroke-width="3.8"/>
<use href="#c-blue-l" stroke="#2828ff" stroke-width="3.2"/>
<use href="#c-blue-r" stroke="#2828ff" stroke-width="3.2"/>
<use href="#c-mag-l" stroke="#ff28ff" stroke-width="3.4"/>
<use href="#c-mag-r" stroke="#ff28ff" stroke-width="3.4"/>
<use href="#c-cyan-l" stroke="#00f8f8" stroke-width="5.4"/>
<use href="#c-cyan-r" stroke="#00f8f8" stroke-width="5.4"/>
<use href="#c-green-l" stroke="#00f400" stroke-width="5.5"/>
<use href="#c-green-r" stroke="#00f400" stroke-width="5.5"/>
<use href="#c-red-l" stroke="#ff0000" stroke-width="3.9"/>
<use href="#c-red-r" stroke="#ff0000" stroke-width="3.9"/>
</g>
<g id="region-g" clip-path="url(#clip-g)" fill="none" stroke-linejoin="round" stroke-linecap="round">
<rect width="2278" height="1777" fill="#d0eec2"/>
<use href="#c-black-l" stroke="#3a4030" stroke-width="3.6"/>
<use href="#c-black-r" stroke="#3a4030" stroke-width="3.6"/>
<use href="#c-blue-l" stroke="#5468cc" stroke-width="3"/>
<use href="#c-blue-r" stroke="#5468cc" stroke-width="3"/>
<use href="#c-mag-l" stroke="#ff70c0" stroke-width="3.2"/>
<use href="#c-mag-r" stroke="#ff70c0" stroke-width="3.2"/>
<use href="#c-cyan-l" stroke="#10e8cc" stroke-width="5.1"/>
<use href="#c-cyan-r" stroke="#10e8cc" stroke-width="5.1"/>
<use href="#c-green-l" stroke="#08ee08" stroke-width="5.2"/>
<use href="#c-green-r" stroke="#08ee08" stroke-width="5.2"/>
<use href="#c-red-l" stroke="#ff6a38" stroke-width="3.7"/>
<use href="#c-red-r" stroke="#ff6a38" stroke-width="3.7"/>
</g>
<g id="region-b" clip-path="url(#clip-b)" fill="none" stroke-linejoin="round" stroke-linecap="round">
<rect width="2278" height="1777" fill="#badaf0"/>
<use href="#c-black-l" stroke="#303848" stroke-width="3.6"/>
<use href="#c-black-r" stroke="#303848" stroke-width="3.6"/>
<use href="#c-blue-l" stroke="#5064f8" stroke-width="3"/>
<use href="#c-blue-r" stroke="#5064f8" stroke-width="3"/>
<use href="#c-mag-l" stroke="#f070f0" stroke-width="3.2"/>
<use href="#c-mag-r" stroke="#f070f0" stroke-width="3.2"/>
<use href="#c-cyan-l" stroke="#10dcf0" stroke-width="5.1"/>
<use href="#c-cyan-r" stroke="#10dcf0" stroke-width="5.1"/>
<use href="#c-green-l" stroke="#08dc6c" stroke-width="5.2"/>
<use href="#c-green-r" stroke="#08dc6c" stroke-width="5.2"/>
<use href="#c-red-l" stroke="#e84864" stroke-width="3.7"/>
<use href="#c-red-r" stroke="#e84864" stroke-width="3.7"/>
</g>
<g id="region-y" clip-path="url(#clip-y)" fill="none" stroke-linejoin="round" stroke-linecap="round">
<rect width="2278" height="1777" fill="#fff3d9"/>
<use href="#c-black-l" stroke="#6a5c3c" stroke-width="3.6"/>
<use href="#c-black-r" stroke="#6a5c3c" stroke-width="3.6"/>
<use href="#c-blue-l" stroke="#8478ec" stroke-width="3"/>
<use href="#c-blue-r" stroke="#8478ec" stroke-width="3"/>
<use href="#c-mag-l" stroke="#ff78e0" stroke-width="3.2"/>
<use href="#c-mag-r" stroke="#ff78e0" stroke-width="3.2"/>
<use href="#c-cyan-l" stroke="#20f0dc" stroke-width="5.1"/>
<use href="#c-cyan-r" stroke="#20f0dc" stroke-width="5.1"/>
<use href="#c-green-l" stroke="#10f010" stroke-width="5.2"/>
<use href="#c-green-r" stroke="#10f010" stroke-width="5.2"/>
<use href="#c-red-l" stroke="#ff4020" stroke-width="3.7"/>
<use href="#c-red-r" stroke="#ff4020" stroke-width="3.7"/>
</g>
<g id="borders" fill="none" stroke-dasharray="13 8.7">
<rect x="215.4" y="248" width="225.8" height="1101" rx="22" ry="22" stroke="#2a2e2a" stroke-width="3.8"/>
<rect x="503" y="96.2" width="166.6" height="1252.8" rx="20" ry="20" stroke="#15191d" stroke-width="4.2"/>
<rect x="684" y="488.8" width="148.2" height="863.2" rx="19" ry="19" stroke="#15191d" stroke-width="4.2"/>
<rect x="847.4" y="488.8" width="96.1" height="863.2" rx="13" ry="13" stroke="#2a2e2a" stroke-width="3.8"/>
<rect x="1130.6" y="499.5" width="248.6" height="209.8" rx="26" ry="26" stroke="#15191d" stroke-width="4.2"/>
<rect x="1130.6" y="728.4" width="159.1" height="747.1" rx="25" ry="25" stroke="#34322e" stroke-width="3.7"/>
<rect x="1396.8" y="801.4" width="160.2" height="670.8" rx="25" ry="25" stroke="#34322e" stroke-width="3.7"/>
<rect x="1800.3" y="557.5" width="177.7" height="890.9" rx="23" ry="23" stroke="#15191d" stroke-width="4.2"/>
</g>
<g id="ticklabels" font-size="64" text-anchor="middle">
<text transform="translate(203.1 1599.5) scale(0.98 1)">200</text>
<text transform="translate(385.2 1599.5) scale(0.98 1)">400</text>
<text transform="translate(567.4 1599.5) scale(0.98 1)">600</text>
<text transform="translate(749.5 1599.5) scale(0.98 1)">800</text>
<text transform="translate(931.6 1599.5) scale(0.98 1)">1000</text>
<text transform="translate(1113.8 1599.5) scale(0.98 1)">1200</text>
<text transform="translate(1295.9 1599.5) scale(0.98 1)">1400</text>
<text transform="translate(1478 1599.5) scale(0.98 1)">1600</text>
<text transform="translate(1789.4 1599.5) scale(0.98 1)">2800</text>
<text transform="translate(1979.3 1599.5) scale(0.98 1)">3000</text>
<text transform="translate(2169.3 1599.5) scale(0.98 1)">3200</text>
</g>
<text transform="translate(1184.5 1729) scale(1.009 1)" font-size="77" text-anchor="middle">Wavenumbers, cm<tspan font-size="46" dy="-36">-1</tspan></text>
<text transform="translate(94 750) rotate(-90) scale(1 1.03)" font-size="78" text-anchor="middle">Raman Intensity</text>
<g id="legend" font-size="63">
<path d="M1544.5 146.8 H1690" stroke="#ff4848" stroke-width="4.6" fill="none"/>
<text transform="translate(1706 168) scale(1.006 1.035)">AG</text>
<path d="M1544.5 225.3 H1690" stroke="#00f400" stroke-width="5.8" fill="none"/>
<text transform="translate(1706 246.5) scale(1.006 1.035)">AG15% CF</text>
<path d="M1544.5 303 H1690" stroke="#00f8f8" stroke-width="5.4" fill="none"/>
<text transform="translate(1706 324.2) scale(1.006 1.035)">AG10% CFNi</text>
<path d="M1544.5 381.5 H1690" stroke="#ff88ff" stroke-width="4.4" fill="none"/>
<text transform="translate(1706 402.7) scale(1.006 1.035)">AG10% CF</text>
<path d="M1544.5 459.9 H1690" stroke="#8888ff" stroke-width="4.6" fill="none"/>
<text transform="translate(1706 481.1) scale(1.006 1.035)">AG15% CFNi</text>
<path d="M1544.5 537.8 H1690" stroke="#202020" stroke-width="4.6" fill="none"/>
<text transform="translate(1706 559) scale(1.006 1.035)">CF</text>
</g>
<g id="annotations">
<text x="732" y="153.6" font-size="67.6" textLength="114.9" lengthAdjust="spacingAndGlyphs">SiC<tspan font-size="44.6" dy="10.8">3</tspan></text>
<text x="792.8" y="372.4" font-size="66.8" textLength="105.5" lengthAdjust="spacingAndGlyphs">CH<tspan font-size="44.1" dy="10.7">3</tspan></text>
<text x="967.6" y="377" font-size="63" textLength="167.1" lengthAdjust="spacingAndGlyphs">Si-OH</text>
<text x="1402.8" y="439.4" font-size="65.9" textLength="106.5" lengthAdjust="spacingAndGlyphs">CH<tspan font-size="43.5" dy="10.6">3</tspan></text>
<text x="2030.2" y="605.4" font-size="65.9" textLength="107.5" lengthAdjust="spacingAndGlyphs">CH<tspan font-size="43.5" dy="10.6">3</tspan></text>
<text x="500" y="1438.6" font-size="63.9" textLength="195.2" lengthAdjust="spacingAndGlyphs">Si-O-Si</text>
<text x="888" y="1424.8" font-size="60.4" textLength="193.5" lengthAdjust="spacingAndGlyphs">D band</text>
<text x="1588.4" y="1309.4" font-size="61.2" textLength="193.6" lengthAdjust="spacingAndGlyphs">G band</text>
</g>
<g id="arrows" stroke="#000" fill="#000">
<path d="M732.6 170.7 L660.8 225.4" stroke-width="7.6" fill="none"/>
<path d="M646.1 236.6 L656.5 214.8 L669.9 232.3 Z" stroke="none"/>
<path d="M828.1 382.2 L768.4 515.3" stroke-width="7.6" fill="none"/>
<path d="M760.8 532.2 L759.6 508.1 L779.6 517.1 Z" stroke="none"/>
<path d="M978.3 397.8 L919.1 516.3" stroke-width="7.6" fill="none"/>
<path d="M910.8 532.8 L910.6 508.7 L930.3 518.5 Z" stroke="none"/>
<path d="M1454.8 461.1 L1351.2 528.3" stroke-width="7.6" fill="none"/>
<path d="M1335.7 538.4 L1347.7 517.5 L1359.7 535.9 Z" stroke="none"/>
<path d="M2061.8 623.2 L1959.8 689.7" stroke-width="7.6" fill="none"/>
<path d="M1944.3 699.8 L1956.3 678.8 L1968.3 697.3 Z" stroke="none"/>
<path d="M481.7 1387 L354.6 1230.3" stroke-width="7.6" fill="none"/>
<path d="M343 1215.9 L365.1 1225.7 L348 1239.5 Z" stroke="none"/>
<path d="M1088.5 1370.6 L1159.7 1336.5" stroke-width="7.6" fill="none"/>
<path d="M1176.4 1328.5 L1161.8 1347.7 L1152.3 1327.9 Z" stroke="none"/>
<path d="M1625.2 1318 L1523 1383.1" stroke-width="7.6" fill="none"/>
<path d="M1507.4 1393 L1519.6 1372.2 L1531.4 1390.7 Z" stroke="none"/>
</g>
</svg></body></html>
